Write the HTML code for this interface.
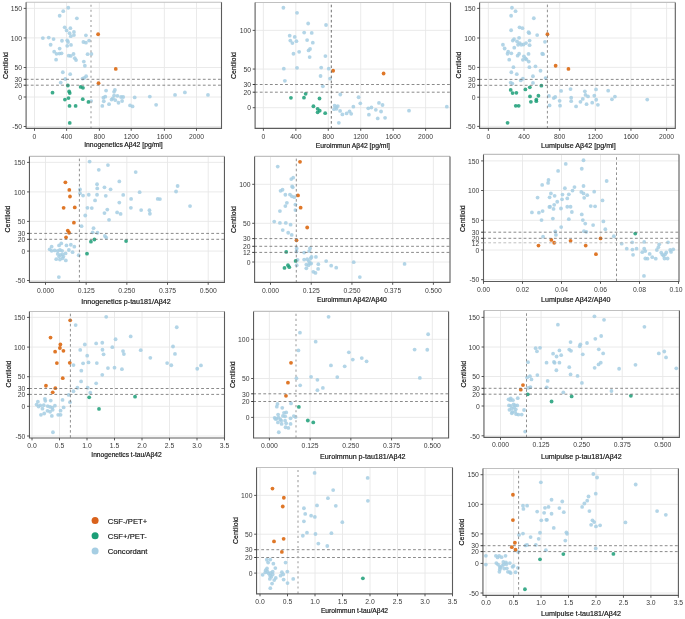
<!DOCTYPE html>
<html><head><meta charset="utf-8"><style>
html,body{margin:0;padding:0;background:#fff;}
svg{display:block;filter:blur(0.3px);}
text{font-family:"Liberation Sans",sans-serif;}
.gr{stroke:#e8e8e8;stroke-width:0.9;}
.dh{stroke:#6c6c6c;stroke-width:0.8;stroke-dasharray:2.8 2.26;stroke-dashoffset:0.35;}
.dhl{stroke:#b8b8b8;stroke-width:0.9;stroke-dasharray:2.8 2.26;stroke-dashoffset:0.35;}
.dk{stroke:#555 !important;}
.dd{stroke:#7c7c7c;stroke-width:0.85;stroke-dasharray:2.6 2.46;}
.dv{stroke:#b0b0b0;stroke-width:1.3;stroke-dasharray:2.1 2.97;}
.bt{stroke:#c0c0c0;stroke-width:1.1;}
.bd{stroke:#5c5c5c;stroke-width:1.1;fill:none;}
.tk{stroke:#444;stroke-width:0.9;}
.tk2{stroke:#222;stroke-width:0.9;}
.tkl{stroke:#999;stroke-width:0.9;}
.yl{font-size:6.8px;fill:#3a3a3a;text-anchor:end;}
.xl{font-size:6.8px;fill:#3a3a3a;text-anchor:middle;}
.at{font-size:6.9px;fill:#111;stroke:#111;stroke-width:0.18px;}
.atc{font-size:7.4px;fill:#111;stroke:#111;stroke-width:0.18px;}
.lg{font-size:7.7px;fill:#111;stroke:#111;stroke-width:0.15px;}
.b{fill:#a6cee3;}
.o{fill:#d9621c;}

circle.g{fill:#1b9e77;stroke:none;}
.p{fill-opacity:0.85;}
circle.o.p{fill:#d95f02;}
</style></head><body>
<svg width="685" height="619" viewBox="0 0 685 619">
<line x1="26.1" y1="8.4" x2="221.5" y2="8.4" class="gr"/>
<line x1="26.1" y1="37.9" x2="221.5" y2="37.9" class="gr"/>
<line x1="26.1" y1="67.5" x2="221.5" y2="67.5" class="gr"/>
<line x1="26.1" y1="97" x2="221.5" y2="97" class="gr"/>
<line x1="26.1" y1="126.5" x2="221.5" y2="126.5" class="gr"/>
<line x1="34.5" y1="2.3" x2="34.5" y2="128.4" class="gr"/>
<line x1="66.6" y1="2.3" x2="66.6" y2="128.4" class="gr"/>
<line x1="99.4" y1="2.3" x2="99.4" y2="128.4" class="gr"/>
<line x1="131.2" y1="2.3" x2="131.2" y2="128.4" class="gr"/>
<line x1="164.4" y1="2.3" x2="164.4" y2="128.4" class="gr"/>
<line x1="196.5" y1="2.3" x2="196.5" y2="128.4" class="gr"/>
<circle cx="68.28" cy="7.77" r="1.9" class="b p"/>
<circle cx="63.24" cy="11.13" r="1.9" class="b p"/>
<circle cx="59.66" cy="15.76" r="1.9" class="b p"/>
<circle cx="76.89" cy="18.28" r="1.9" class="b p"/>
<circle cx="64.71" cy="27.31" r="1.9" class="b p"/>
<circle cx="70.38" cy="28.15" r="1.9" class="b p"/>
<circle cx="66.6" cy="30.46" r="1.9" class="b p"/>
<circle cx="73.95" cy="31.93" r="1.9" class="b p"/>
<circle cx="69.54" cy="33.19" r="1.9" class="b p"/>
<circle cx="73.95" cy="35.08" r="1.9" class="b p"/>
<circle cx="70.8" cy="36.13" r="1.9" class="b p"/>
<circle cx="85.92" cy="35.29" r="1.9" class="b p"/>
<circle cx="42.86" cy="38.03" r="1.9" class="b p"/>
<circle cx="48.74" cy="37.61" r="1.9" class="b p"/>
<circle cx="53.57" cy="39.08" r="1.9" class="b p"/>
<circle cx="61.97" cy="40.76" r="1.9" class="b p"/>
<circle cx="67.23" cy="40.34" r="1.9" class="b p"/>
<circle cx="68.07" cy="42.02" r="1.9" class="b p"/>
<circle cx="83.4" cy="42.02" r="1.9" class="b p"/>
<circle cx="85.92" cy="42.65" r="1.9" class="b p"/>
<circle cx="89.08" cy="40.55" r="1.9" class="b p"/>
<circle cx="50.63" cy="44.75" r="1.9" class="b p"/>
<circle cx="67.23" cy="45.8" r="1.9" class="b p"/>
<circle cx="71.01" cy="44.96" r="1.9" class="b p"/>
<circle cx="59.66" cy="48.53" r="1.9" class="b p"/>
<circle cx="54.2" cy="51.68" r="1.9" class="b p"/>
<circle cx="56.51" cy="53.78" r="1.9" class="b p"/>
<circle cx="59.45" cy="53.57" r="1.9" class="b p"/>
<circle cx="61.55" cy="53.36" r="1.9" class="b p"/>
<circle cx="73.53" cy="53.99" r="1.9" class="b p"/>
<circle cx="68.7" cy="55.67" r="1.9" class="b p"/>
<circle cx="70.8" cy="55.88" r="1.9" class="b p"/>
<circle cx="74.79" cy="58.19" r="1.9" class="b p"/>
<circle cx="76.05" cy="60.08" r="1.9" class="b p"/>
<circle cx="87.61" cy="54.2" r="1.9" class="b p"/>
<circle cx="91.39" cy="53.99" r="1.9" class="b p"/>
<circle cx="56.09" cy="59.66" r="1.9" class="b p"/>
<circle cx="83.82" cy="61.55" r="1.9" class="b p"/>
<circle cx="84.87" cy="65.76" r="1.9" class="b p"/>
<circle cx="62.82" cy="72.27" r="1.9" class="b p"/>
<circle cx="70.17" cy="74.16" r="1.9" class="b p"/>
<circle cx="65.34" cy="78.99" r="1.9" class="b p"/>
<circle cx="60.71" cy="82.56" r="1.9" class="b p"/>
<circle cx="82.56" cy="78.57" r="1.9" class="b p"/>
<circle cx="84.24" cy="77.94" r="1.9" class="b p"/>
<circle cx="86.13" cy="76.26" r="1.9" class="b p"/>
<circle cx="91.18" cy="101.05" r="1.9" class="b p"/>
<circle cx="106.09" cy="90.55" r="1.9" class="b p"/>
<circle cx="114.92" cy="89.92" r="1.9" class="b p"/>
<circle cx="114.08" cy="91.81" r="1.9" class="b p"/>
<circle cx="103.36" cy="97.69" r="1.9" class="b p"/>
<circle cx="105.25" cy="96.64" r="1.9" class="b p"/>
<circle cx="103.78" cy="101.26" r="1.9" class="b p"/>
<circle cx="102.31" cy="105.88" r="1.9" class="b p"/>
<circle cx="109.03" cy="104.2" r="1.9" class="b p"/>
<circle cx="111.55" cy="99.58" r="1.9" class="b p"/>
<circle cx="112.82" cy="98.32" r="1.9" class="b p"/>
<circle cx="114.08" cy="95.59" r="1.9" class="b p"/>
<circle cx="117.44" cy="95.8" r="1.9" class="b p"/>
<circle cx="115.34" cy="100.21" r="1.9" class="b p"/>
<circle cx="118.49" cy="102.73" r="1.9" class="b p"/>
<circle cx="121.05" cy="97.02" r="1.9" class="b p"/>
<circle cx="123.15" cy="97.02" r="1.9" class="b p"/>
<circle cx="122.1" cy="101.01" r="1.9" class="b p"/>
<circle cx="130.08" cy="105.42" r="1.9" class="b p"/>
<circle cx="132.6" cy="106.47" r="1.9" class="b p"/>
<circle cx="134.7" cy="97.44" r="1.9" class="b p"/>
<circle cx="149.82" cy="96.6" r="1.9" class="b p"/>
<circle cx="156.12" cy="104.79" r="1.9" class="b p"/>
<circle cx="175.02" cy="94.92" r="1.9" class="b p"/>
<circle cx="184.89" cy="92.4" r="1.9" class="b p"/>
<circle cx="207.99" cy="94.92" r="1.9" class="b p"/>
<circle cx="98.11" cy="34.24" r="1.9" class="o p"/>
<circle cx="115.76" cy="68.91" r="1.9" class="o p"/>
<circle cx="98.53" cy="83.19" r="1.9" class="o p"/>
<circle cx="67.86" cy="85.5" r="1.9" class="g p"/>
<circle cx="80.67" cy="86.97" r="1.9" class="g p"/>
<circle cx="82.98" cy="87.82" r="1.9" class="g p"/>
<circle cx="69.12" cy="91.39" r="1.9" class="g p"/>
<circle cx="69.75" cy="93.07" r="1.9" class="g p"/>
<circle cx="52.52" cy="92.65" r="1.9" class="g p"/>
<circle cx="68.49" cy="98.11" r="1.9" class="g p"/>
<circle cx="64.92" cy="99.58" r="1.9" class="g p"/>
<circle cx="82.77" cy="99.16" r="1.9" class="g p"/>
<circle cx="88.45" cy="101.89" r="1.9" class="g p"/>
<circle cx="69.54" cy="105.88" r="1.9" class="g p"/>
<circle cx="75.63" cy="105.88" r="1.9" class="g p"/>
<circle cx="69.75" cy="122.9" r="1.9" class="g p"/>
<line x1="26.1" y1="79.3" x2="221.5" y2="79.3" class="dh"/>
<line x1="26.1" y1="85.2" x2="221.5" y2="85.2" class="dh"/>
<line x1="91" y1="2.3" x2="91" y2="128.4" class="dv" stroke-dashoffset="-2.4"/>
<line x1="26.1" y1="2.3" x2="221.5" y2="2.3" class="bt"/>
<polyline points="26.1,2.3 26.1,128.4 221.5,128.4 221.5,2.3" class="bd"/>
<line x1="23.7" y1="8.4" x2="26.1" y2="8.4" class="tk"/>
<text x="22" y="11.15" class="yl">150</text>
<line x1="23.7" y1="37.9" x2="26.1" y2="37.9" class="tk"/>
<text x="22" y="40.65" class="yl">100</text>
<line x1="23.7" y1="67.5" x2="26.1" y2="67.5" class="tk"/>
<text x="22" y="70.25" class="yl">50</text>
<line x1="23.7" y1="79.3" x2="26.1" y2="79.3" class="tk2"/>
<text x="22" y="82.05" class="yl">30</text>
<line x1="23.7" y1="85.2" x2="26.1" y2="85.2" class="tk2"/>
<text x="22" y="87.95" class="yl">20</text>
<line x1="23.7" y1="97" x2="26.1" y2="97" class="tk"/>
<text x="22" y="99.75" class="yl">0</text>
<line x1="23.7" y1="126.5" x2="26.1" y2="126.5" class="tk"/>
<text x="22" y="129.25" class="yl">-50</text>
<line x1="34.5" y1="128.4" x2="34.5" y2="130.8" class="tk"/>
<text x="34.5" y="138.8" class="xl">0</text>
<line x1="66.6" y1="128.4" x2="66.6" y2="130.8" class="tk"/>
<text x="66.6" y="138.8" class="xl">400</text>
<line x1="99.4" y1="128.4" x2="99.4" y2="130.8" class="tk"/>
<text x="99.4" y="138.8" class="xl">800</text>
<line x1="131.2" y1="128.4" x2="131.2" y2="130.8" class="tk"/>
<text x="131.2" y="138.8" class="xl">1200</text>
<line x1="164.4" y1="128.4" x2="164.4" y2="130.8" class="tk"/>
<text x="164.4" y="138.8" class="xl">1600</text>
<line x1="196.5" y1="128.4" x2="196.5" y2="130.8" class="tk"/>
<text x="196.5" y="138.8" class="xl">2000</text>
<text x="84.2" y="147.4" class="at" textLength="78.5" lengthAdjust="spacingAndGlyphs">Innogenetics Aβ42 [pg/ml]</text>
<text transform="translate(7.5,65.6) rotate(-90)" class="at" text-anchor="middle">Centiloid</text>
<line x1="255.1" y1="30.4" x2="450.5" y2="30.4" class="gr"/>
<line x1="255.1" y1="69.05" x2="450.5" y2="69.05" class="gr"/>
<line x1="255.1" y1="107.7" x2="450.5" y2="107.7" class="gr"/>
<line x1="263.4" y1="2.5" x2="263.4" y2="128.4" class="gr"/>
<line x1="295.84" y1="2.5" x2="295.84" y2="128.4" class="gr"/>
<line x1="328.28" y1="2.5" x2="328.28" y2="128.4" class="gr"/>
<line x1="360.72" y1="2.5" x2="360.72" y2="128.4" class="gr"/>
<line x1="393.16" y1="2.5" x2="393.16" y2="128.4" class="gr"/>
<line x1="425.6" y1="2.5" x2="425.6" y2="128.4" class="gr"/>
<circle cx="283.39" cy="7.77" r="1.9" class="b p"/>
<circle cx="297.04" cy="12.81" r="1.9" class="b p"/>
<circle cx="308.17" cy="23.52" r="1.9" class="b p"/>
<circle cx="326.02" cy="24.99" r="1.9" class="b p"/>
<circle cx="304.18" cy="32.55" r="1.9" class="b p"/>
<circle cx="311.74" cy="32.97" r="1.9" class="b p"/>
<circle cx="289.69" cy="35.7" r="1.9" class="b p"/>
<circle cx="294.73" cy="36.96" r="1.9" class="b p"/>
<circle cx="290.32" cy="40.53" r="1.9" class="b p"/>
<circle cx="292.42" cy="43.05" r="1.9" class="b p"/>
<circle cx="296.41" cy="41.16" r="1.9" class="b p"/>
<circle cx="307.12" cy="40.11" r="1.9" class="b p"/>
<circle cx="312.79" cy="42.63" r="1.9" class="b p"/>
<circle cx="310.06" cy="48.93" r="1.9" class="b p"/>
<circle cx="308.59" cy="50.4" r="1.9" class="b p"/>
<circle cx="299.14" cy="51.87" r="1.9" class="b p"/>
<circle cx="293.47" cy="53.76" r="1.9" class="b p"/>
<circle cx="325.39" cy="56.07" r="1.9" class="b p"/>
<circle cx="309.64" cy="57.12" r="1.9" class="b p"/>
<circle cx="283.81" cy="68.67" r="1.9" class="b p"/>
<circle cx="297.04" cy="67.83" r="1.9" class="b p"/>
<circle cx="321.19" cy="67.62" r="1.9" class="b p"/>
<circle cx="328.75" cy="68.67" r="1.9" class="b p"/>
<circle cx="320.56" cy="76.02" r="1.9" class="b p"/>
<circle cx="330.01" cy="78.54" r="1.9" class="b p"/>
<circle cx="284.86" cy="80.85" r="1.9" class="b p"/>
<circle cx="322.87" cy="86.31" r="1.9" class="b p"/>
<circle cx="340.3" cy="94.5" r="1.9" class="b p"/>
<circle cx="334.63" cy="105.63" r="1.9" class="b p"/>
<circle cx="337.78" cy="106.05" r="1.9" class="b p"/>
<circle cx="336.1" cy="107.1" r="1.9" class="b p"/>
<circle cx="334" cy="109.2" r="1.9" class="b p"/>
<circle cx="336.52" cy="108.78" r="1.9" class="b p"/>
<circle cx="340.09" cy="110.88" r="1.9" class="b p"/>
<circle cx="342.4" cy="114.45" r="1.9" class="b p"/>
<circle cx="346.6" cy="113.4" r="1.9" class="b p"/>
<circle cx="349.54" cy="111.3" r="1.9" class="b p"/>
<circle cx="351.22" cy="113.82" r="1.9" class="b p"/>
<circle cx="338.83" cy="122.85" r="1.9" class="b p"/>
<circle cx="353.36" cy="106.68" r="1.9" class="b p"/>
<circle cx="358.61" cy="97.23" r="1.9" class="b p"/>
<circle cx="360.29" cy="103.32" r="1.9" class="b p"/>
<circle cx="368.27" cy="108.36" r="1.9" class="b p"/>
<circle cx="371.42" cy="107.52" r="1.9" class="b p"/>
<circle cx="368.9" cy="114.66" r="1.9" class="b p"/>
<circle cx="375.83" cy="109.83" r="1.9" class="b p"/>
<circle cx="378.98" cy="102.9" r="1.9" class="b p"/>
<circle cx="382.55" cy="105" r="1.9" class="b p"/>
<circle cx="381.08" cy="111.51" r="1.9" class="b p"/>
<circle cx="377.72" cy="118.44" r="1.9" class="b p"/>
<circle cx="385.07" cy="117.81" r="1.9" class="b p"/>
<circle cx="409.01" cy="110.67" r="1.9" class="b p"/>
<circle cx="446.81" cy="106.68" r="1.9" class="b p"/>
<circle cx="333.16" cy="70.77" r="1.9" class="o p"/>
<circle cx="305.65" cy="93.87" r="1.9" class="g p"/>
<circle cx="290.95" cy="97.86" r="1.9" class="g p"/>
<circle cx="303.97" cy="97.65" r="1.9" class="g p"/>
<circle cx="319.51" cy="98.49" r="1.9" class="g p"/>
<circle cx="313.42" cy="106.26" r="1.9" class="g p"/>
<circle cx="317.62" cy="108.78" r="1.9" class="g p"/>
<circle cx="319.72" cy="110.67" r="1.9" class="g p"/>
<circle cx="317.62" cy="112.35" r="1.9" class="g p"/>
<circle cx="325.18" cy="113.19" r="1.9" class="g p"/>
<circle cx="383.6" cy="73.5" r="1.9" class="o p"/>
<line x1="255.1" y1="84.5" x2="450.5" y2="84.5" class="dh"/>
<line x1="255.1" y1="92.2" x2="450.5" y2="92.2" class="dh"/>
<line x1="331.3" y1="2.5" x2="331.3" y2="128.4" class="dd dk" stroke-dashoffset="-2.2"/>
<line x1="255.1" y1="2.5" x2="450.5" y2="2.5" class="bt"/>
<polyline points="255.1,2.5 255.1,128.4 450.5,128.4 450.5,2.5" class="bd"/>
<line x1="252.7" y1="30.4" x2="255.1" y2="30.4" class="tk"/>
<text x="251" y="33.15" class="yl">100</text>
<line x1="252.7" y1="69.05" x2="255.1" y2="69.05" class="tk"/>
<text x="251" y="71.8" class="yl">50</text>
<line x1="252.7" y1="84.5" x2="255.1" y2="84.5" class="tk2"/>
<text x="251" y="87.25" class="yl">30</text>
<line x1="252.7" y1="92.2" x2="255.1" y2="92.2" class="tk2"/>
<text x="251" y="94.95" class="yl">20</text>
<line x1="252.7" y1="107.7" x2="255.1" y2="107.7" class="tk"/>
<text x="251" y="110.45" class="yl">0</text>
<line x1="263.4" y1="128.4" x2="263.4" y2="130.8" class="tk"/>
<text x="263.4" y="138.8" class="xl">0</text>
<line x1="295.84" y1="128.4" x2="295.84" y2="130.8" class="tk"/>
<text x="295.84" y="138.8" class="xl">400</text>
<line x1="328.28" y1="128.4" x2="328.28" y2="130.8" class="tk"/>
<text x="328.28" y="138.8" class="xl">800</text>
<line x1="360.72" y1="128.4" x2="360.72" y2="130.8" class="tk"/>
<text x="360.72" y="138.8" class="xl">1200</text>
<line x1="393.16" y1="128.4" x2="393.16" y2="130.8" class="tk"/>
<text x="393.16" y="138.8" class="xl">1600</text>
<line x1="425.6" y1="128.4" x2="425.6" y2="130.8" class="tk"/>
<text x="425.6" y="138.8" class="xl">2000</text>
<text x="315.7" y="147.6" class="at" textLength="74.2" lengthAdjust="spacingAndGlyphs">Euroimmun Aβ42 [pg/ml]</text>
<text transform="translate(236.2,65.6) rotate(-90)" class="at" text-anchor="middle">Centiloid</text>
<line x1="479.6" y1="8.4" x2="675.3" y2="8.4" class="gr"/>
<line x1="479.6" y1="38" x2="675.3" y2="38" class="gr"/>
<line x1="479.6" y1="67.4" x2="675.3" y2="67.4" class="gr"/>
<line x1="479.6" y1="97.2" x2="675.3" y2="97.2" class="gr"/>
<line x1="479.6" y1="126.4" x2="675.3" y2="126.4" class="gr"/>
<line x1="488.4" y1="2.4" x2="488.4" y2="128.4" class="gr"/>
<line x1="524.04" y1="2.4" x2="524.04" y2="128.4" class="gr"/>
<line x1="559.68" y1="2.4" x2="559.68" y2="128.4" class="gr"/>
<line x1="595.32" y1="2.4" x2="595.32" y2="128.4" class="gr"/>
<line x1="630.96" y1="2.4" x2="630.96" y2="128.4" class="gr"/>
<line x1="666.6" y1="2.4" x2="666.6" y2="128.4" class="gr"/>
<circle cx="511.96" cy="7.77" r="1.9" class="b p"/>
<circle cx="515.53" cy="11.13" r="1.9" class="b p"/>
<circle cx="511.12" cy="15.75" r="1.9" class="b p"/>
<circle cx="533.8" cy="18.27" r="1.9" class="b p"/>
<circle cx="519.52" cy="27.3" r="1.9" class="b p"/>
<circle cx="522.46" cy="28.14" r="1.9" class="b p"/>
<circle cx="511.12" cy="30.24" r="1.9" class="b p"/>
<circle cx="528.55" cy="32.13" r="1.9" class="b p"/>
<circle cx="529.18" cy="33.18" r="1.9" class="b p"/>
<circle cx="537.16" cy="35.07" r="1.9" class="b p"/>
<circle cx="519.1" cy="37.8" r="1.9" class="b p"/>
<circle cx="514.06" cy="39.06" r="1.9" class="b p"/>
<circle cx="512.8" cy="40.53" r="1.9" class="b p"/>
<circle cx="517" cy="41.37" r="1.9" class="b p"/>
<circle cx="519.73" cy="43.05" r="1.9" class="b p"/>
<circle cx="518.05" cy="44.73" r="1.9" class="b p"/>
<circle cx="521.2" cy="44.73" r="1.9" class="b p"/>
<circle cx="523.51" cy="44.52" r="1.9" class="b p"/>
<circle cx="526.03" cy="43.05" r="1.9" class="b p"/>
<circle cx="529.6" cy="40.53" r="1.9" class="b p"/>
<circle cx="529.6" cy="45.15" r="1.9" class="b p"/>
<circle cx="502.93" cy="44.73" r="1.9" class="b p"/>
<circle cx="504.61" cy="48.51" r="1.9" class="b p"/>
<circle cx="508.18" cy="51.66" r="1.9" class="b p"/>
<circle cx="507.55" cy="53.76" r="1.9" class="b p"/>
<circle cx="511.33" cy="53.34" r="1.9" class="b p"/>
<circle cx="514.27" cy="47.67" r="1.9" class="b p"/>
<circle cx="519.1" cy="53.76" r="1.9" class="b p"/>
<circle cx="517.63" cy="55.65" r="1.9" class="b p"/>
<circle cx="528.55" cy="53.97" r="1.9" class="b p"/>
<circle cx="523.93" cy="56.28" r="1.9" class="b p"/>
<circle cx="525.4" cy="58.38" r="1.9" class="b p"/>
<circle cx="522.88" cy="59.85" r="1.9" class="b p"/>
<circle cx="526.45" cy="59.43" r="1.9" class="b p"/>
<circle cx="528.76" cy="61.53" r="1.9" class="b p"/>
<circle cx="542.2" cy="53.76" r="1.9" class="b p"/>
<circle cx="543.04" cy="54.18" r="1.9" class="b p"/>
<circle cx="509.23" cy="59.64" r="1.9" class="b p"/>
<circle cx="544.93" cy="41.79" r="1.9" class="b p"/>
<circle cx="513.43" cy="67.2" r="1.9" class="b p"/>
<circle cx="529.39" cy="67.2" r="1.9" class="b p"/>
<circle cx="535.48" cy="66.36" r="1.9" class="b p"/>
<circle cx="511.33" cy="72.24" r="1.9" class="b p"/>
<circle cx="540.52" cy="70.77" r="1.9" class="b p"/>
<circle cx="516.79" cy="74.13" r="1.9" class="b p"/>
<circle cx="532.96" cy="76.23" r="1.9" class="b p"/>
<circle cx="522.88" cy="78.75" r="1.9" class="b p"/>
<circle cx="520.78" cy="80.43" r="1.9" class="b p"/>
<circle cx="545.56" cy="78.12" r="1.9" class="b p"/>
<circle cx="510.7" cy="82.53" r="1.9" class="b p"/>
<circle cx="512.38" cy="83.58" r="1.9" class="b p"/>
<circle cx="532.96" cy="82.95" r="1.9" class="b p"/>
<circle cx="548.92" cy="95.97" r="1.9" class="b p"/>
<circle cx="553.75" cy="98.07" r="1.9" class="b p"/>
<circle cx="555.22" cy="97.02" r="1.9" class="b p"/>
<circle cx="561.1" cy="90.93" r="1.9" class="b p"/>
<circle cx="570.55" cy="89.04" r="1.9" class="b p"/>
<circle cx="571.18" cy="97.65" r="1.9" class="b p"/>
<circle cx="571.18" cy="101.22" r="1.9" class="b p"/>
<circle cx="559.63" cy="100.8" r="1.9" class="b p"/>
<circle cx="549.55" cy="105.42" r="1.9" class="b p"/>
<circle cx="560.05" cy="105.63" r="1.9" class="b p"/>
<circle cx="576.05" cy="106.47" r="1.9" class="b p"/>
<circle cx="580.46" cy="101.85" r="1.9" class="b p"/>
<circle cx="582.77" cy="98.91" r="1.9" class="b p"/>
<circle cx="584.87" cy="91.35" r="1.9" class="b p"/>
<circle cx="585.5" cy="94.92" r="1.9" class="b p"/>
<circle cx="588.02" cy="96.39" r="1.9" class="b p"/>
<circle cx="586.55" cy="104.16" r="1.9" class="b p"/>
<circle cx="592.22" cy="102.69" r="1.9" class="b p"/>
<circle cx="594.32" cy="95.76" r="1.9" class="b p"/>
<circle cx="596" cy="89.46" r="1.9" class="b p"/>
<circle cx="596.21" cy="99.75" r="1.9" class="b p"/>
<circle cx="597.89" cy="104.79" r="1.9" class="b p"/>
<circle cx="608.18" cy="90.72" r="1.9" class="b p"/>
<circle cx="611.96" cy="99.33" r="1.9" class="b p"/>
<circle cx="614.9" cy="96.6" r="1.9" class="b p"/>
<circle cx="647.24" cy="99.54" r="1.9" class="b p"/>
<circle cx="547.45" cy="34.23" r="1.9" class="o p"/>
<circle cx="555.64" cy="65.73" r="1.9" class="o p"/>
<circle cx="568.45" cy="68.88" r="1.9" class="o p"/>
<circle cx="510.7" cy="89.88" r="1.9" class="g p"/>
<circle cx="512.59" cy="93.03" r="1.9" class="g p"/>
<circle cx="516.37" cy="92.82" r="1.9" class="g p"/>
<circle cx="525.4" cy="89.46" r="1.9" class="g p"/>
<circle cx="529.81" cy="87.36" r="1.9" class="g p"/>
<circle cx="541.36" cy="85.68" r="1.9" class="g p"/>
<circle cx="530.02" cy="96.39" r="1.9" class="g p"/>
<circle cx="538.42" cy="95.76" r="1.9" class="g p"/>
<circle cx="530.86" cy="101.85" r="1.9" class="g p"/>
<circle cx="536.32" cy="99.54" r="1.9" class="g p"/>
<circle cx="536.32" cy="101.22" r="1.9" class="g p"/>
<circle cx="515.74" cy="105.84" r="1.9" class="g p"/>
<circle cx="518.68" cy="105.84" r="1.9" class="g p"/>
<circle cx="507.55" cy="122.85" r="1.9" class="g p"/>
<line x1="479.6" y1="79.4" x2="675.3" y2="79.4" class="dh"/>
<line x1="479.6" y1="85.3" x2="675.3" y2="85.3" class="dh"/>
<line x1="547.4" y1="2.4" x2="547.4" y2="128.4" class="dd" stroke-dashoffset="-2.2"/>
<line x1="479.6" y1="2.4" x2="675.3" y2="2.4" class="bt"/>
<polyline points="479.6,2.4 479.6,128.4 675.3,128.4 675.3,2.4" class="bd"/>
<line x1="477.2" y1="8.4" x2="479.6" y2="8.4" class="tk"/>
<text x="475.5" y="11.15" class="yl">150</text>
<line x1="477.2" y1="38" x2="479.6" y2="38" class="tk"/>
<text x="475.5" y="40.75" class="yl">100</text>
<line x1="477.2" y1="67.4" x2="479.6" y2="67.4" class="tk"/>
<text x="475.5" y="70.15" class="yl">50</text>
<line x1="477.2" y1="79.4" x2="479.6" y2="79.4" class="tk2"/>
<text x="475.5" y="82.15" class="yl">30</text>
<line x1="477.2" y1="85.3" x2="479.6" y2="85.3" class="tk2"/>
<text x="475.5" y="88.05" class="yl">20</text>
<line x1="477.2" y1="97.2" x2="479.6" y2="97.2" class="tk"/>
<text x="475.5" y="99.95" class="yl">0</text>
<line x1="477.2" y1="126.4" x2="479.6" y2="126.4" class="tk"/>
<text x="475.5" y="129.15" class="yl">-50</text>
<line x1="488.4" y1="128.4" x2="488.4" y2="130.8" class="tk"/>
<text x="488.4" y="138.8" class="xl">0</text>
<line x1="524.04" y1="128.4" x2="524.04" y2="130.8" class="tk"/>
<text x="524.04" y="138.8" class="xl">400</text>
<line x1="559.68" y1="128.4" x2="559.68" y2="130.8" class="tk"/>
<text x="559.68" y="138.8" class="xl">800</text>
<line x1="595.32" y1="128.4" x2="595.32" y2="130.8" class="tk"/>
<text x="595.32" y="138.8" class="xl">1200</text>
<line x1="630.96" y1="128.4" x2="630.96" y2="130.8" class="tk"/>
<text x="630.96" y="138.8" class="xl">1600</text>
<line x1="666.6" y1="128.4" x2="666.6" y2="130.8" class="tk"/>
<text x="666.6" y="138.8" class="xl">2000</text>
<text x="541" y="147.6" class="atc" textLength="74.7" lengthAdjust="spacingAndGlyphs">Lumipulse Aβ42 [pg/ml]</text>
<text transform="translate(461.4,65) rotate(-90)" class="at" text-anchor="middle">Centiloid</text>
<line x1="29.45" y1="162.4" x2="224.45" y2="162.4" class="gr"/>
<line x1="29.45" y1="191.9" x2="224.45" y2="191.9" class="gr"/>
<line x1="29.45" y1="221.4" x2="224.45" y2="221.4" class="gr"/>
<line x1="29.45" y1="251.1" x2="224.45" y2="251.1" class="gr"/>
<line x1="29.45" y1="280.5" x2="224.45" y2="280.5" class="gr"/>
<line x1="45.5" y1="156.4" x2="45.5" y2="282.4" class="gr"/>
<line x1="86.17" y1="156.4" x2="86.17" y2="282.4" class="gr"/>
<line x1="126.85" y1="156.4" x2="126.85" y2="282.4" class="gr"/>
<line x1="167.52" y1="156.4" x2="167.52" y2="282.4" class="gr"/>
<line x1="208.2" y1="156.4" x2="208.2" y2="282.4" class="gr"/>
<circle cx="89.61" cy="161.57" r="1.9" class="b p"/>
<circle cx="107.95" cy="165.06" r="1.9" class="b p"/>
<circle cx="98.78" cy="169.86" r="1.9" class="b p"/>
<circle cx="119.3" cy="181.43" r="1.9" class="b p"/>
<circle cx="97.04" cy="184.27" r="1.9" class="b p"/>
<circle cx="97.25" cy="188.42" r="1.9" class="b p"/>
<circle cx="104.46" cy="187.33" r="1.9" class="b p"/>
<circle cx="110.57" cy="189.29" r="1.9" class="b p"/>
<circle cx="80.01" cy="189.51" r="1.9" class="b p"/>
<circle cx="80.01" cy="193.22" r="1.9" class="b p"/>
<circle cx="83.07" cy="195.62" r="1.9" class="b p"/>
<circle cx="88.74" cy="194.75" r="1.9" class="b p"/>
<circle cx="97.04" cy="194.75" r="1.9" class="b p"/>
<circle cx="105.77" cy="195.84" r="1.9" class="b p"/>
<circle cx="123.23" cy="194.97" r="1.9" class="b p"/>
<circle cx="95.07" cy="200.43" r="1.9" class="b p"/>
<circle cx="119.3" cy="202.61" r="1.9" class="b p"/>
<circle cx="87.43" cy="207.85" r="1.9" class="b p"/>
<circle cx="91.8" cy="208.07" r="1.9" class="b p"/>
<circle cx="107.3" cy="209.59" r="1.9" class="b p"/>
<circle cx="104.46" cy="213.09" r="1.9" class="b p"/>
<circle cx="117.12" cy="212.43" r="1.9" class="b p"/>
<circle cx="120.61" cy="213.96" r="1.9" class="b p"/>
<circle cx="85.25" cy="215.49" r="1.9" class="b p"/>
<circle cx="109.04" cy="219.85" r="1.9" class="b p"/>
<circle cx="81.54" cy="226.18" r="1.9" class="b p"/>
<circle cx="93.54" cy="228.15" r="1.9" class="b p"/>
<circle cx="92.67" cy="232.3" r="1.9" class="b p"/>
<circle cx="97.47" cy="232.73" r="1.9" class="b p"/>
<circle cx="104.9" cy="236.01" r="1.9" class="b p"/>
<circle cx="106.2" cy="237.54" r="1.9" class="b p"/>
<circle cx="59.05" cy="245.39" r="1.9" class="b p"/>
<circle cx="61.24" cy="243.43" r="1.9" class="b p"/>
<circle cx="51.63" cy="246.7" r="1.9" class="b p"/>
<circle cx="49.67" cy="249.32" r="1.9" class="b p"/>
<circle cx="51.63" cy="250.85" r="1.9" class="b p"/>
<circle cx="54.69" cy="250.41" r="1.9" class="b p"/>
<circle cx="57.74" cy="250.85" r="1.9" class="b p"/>
<circle cx="59.93" cy="249.98" r="1.9" class="b p"/>
<circle cx="62.11" cy="250.85" r="1.9" class="b p"/>
<circle cx="66.48" cy="245.39" r="1.9" class="b p"/>
<circle cx="70.84" cy="244.74" r="1.9" class="b p"/>
<circle cx="74.33" cy="246.7" r="1.9" class="b p"/>
<circle cx="68.88" cy="249.98" r="1.9" class="b p"/>
<circle cx="72.59" cy="252.16" r="1.9" class="b p"/>
<circle cx="78.7" cy="255.22" r="1.9" class="b p"/>
<circle cx="57.74" cy="253.91" r="1.9" class="b p"/>
<circle cx="60.36" cy="254.78" r="1.9" class="b p"/>
<circle cx="62.55" cy="254.34" r="1.9" class="b p"/>
<circle cx="65.6" cy="253.47" r="1.9" class="b p"/>
<circle cx="59.05" cy="256.53" r="1.9" class="b p"/>
<circle cx="63.42" cy="256.53" r="1.9" class="b p"/>
<circle cx="56.22" cy="259.15" r="1.9" class="b p"/>
<circle cx="59.93" cy="259.58" r="1.9" class="b p"/>
<circle cx="65.82" cy="260.46" r="1.9" class="b p"/>
<circle cx="62.55" cy="258.27" r="1.9" class="b p"/>
<circle cx="58.84" cy="277.05" r="1.9" class="b p"/>
<circle cx="135.7" cy="172.05" r="1.9" class="b p"/>
<circle cx="139.63" cy="192.13" r="1.9" class="b p"/>
<circle cx="131.11" cy="198.9" r="1.9" class="b p"/>
<circle cx="130.89" cy="207.85" r="1.9" class="b p"/>
<circle cx="141.15" cy="210.03" r="1.9" class="b p"/>
<circle cx="149.45" cy="210.25" r="1.9" class="b p"/>
<circle cx="149.89" cy="213.74" r="1.9" class="b p"/>
<circle cx="157.74" cy="198.9" r="1.9" class="b p"/>
<circle cx="159.93" cy="199.12" r="1.9" class="b p"/>
<circle cx="176.08" cy="191.48" r="1.9" class="b p"/>
<circle cx="177.61" cy="186.02" r="1.9" class="b p"/>
<circle cx="190.05" cy="206.1" r="1.9" class="b p"/>
<circle cx="65.38" cy="182.31" r="1.9" class="o p"/>
<circle cx="69.31" cy="189.95" r="1.9" class="o p"/>
<circle cx="69.97" cy="196.5" r="1.9" class="o p"/>
<circle cx="63.64" cy="207.85" r="1.9" class="o p"/>
<circle cx="74.77" cy="207.41" r="1.9" class="o p"/>
<circle cx="73.9" cy="222.69" r="1.9" class="o p"/>
<circle cx="67.79" cy="230.55" r="1.9" class="o p"/>
<circle cx="69.1" cy="232.73" r="1.9" class="o p"/>
<circle cx="66.04" cy="237.32" r="1.9" class="o p"/>
<circle cx="94.42" cy="239.5" r="1.9" class="g p"/>
<circle cx="90.92" cy="241.68" r="1.9" class="g p"/>
<circle cx="126.07" cy="241.03" r="1.9" class="g p"/>
<circle cx="87" cy="253.69" r="1.9" class="g p"/>
<line x1="29.45" y1="233.4" x2="224.45" y2="233.4" class="dh"/>
<line x1="29.45" y1="239.3" x2="224.45" y2="239.3" class="dh"/>
<line x1="79.4" y1="156.4" x2="79.4" y2="282.4" class="dd" stroke-dashoffset="-2.2"/>
<line x1="29.45" y1="156.4" x2="224.45" y2="156.4" class="bt"/>
<polyline points="29.45,156.4 29.45,282.4 224.45,282.4 224.45,156.4" class="bd"/>
<line x1="27.05" y1="162.4" x2="29.45" y2="162.4" class="tk"/>
<text x="25.35" y="165.15" class="yl">150</text>
<line x1="27.05" y1="191.9" x2="29.45" y2="191.9" class="tk"/>
<text x="25.35" y="194.65" class="yl">100</text>
<line x1="27.05" y1="221.4" x2="29.45" y2="221.4" class="tk"/>
<text x="25.35" y="224.15" class="yl">50</text>
<line x1="27.05" y1="233.4" x2="29.45" y2="233.4" class="tk2"/>
<text x="25.35" y="236.15" class="yl">30</text>
<line x1="27.05" y1="239.3" x2="29.45" y2="239.3" class="tk2"/>
<text x="25.35" y="242.05" class="yl">20</text>
<line x1="27.05" y1="251.1" x2="29.45" y2="251.1" class="tk"/>
<text x="25.35" y="253.85" class="yl">0</text>
<line x1="27.05" y1="280.5" x2="29.45" y2="280.5" class="tk"/>
<text x="25.35" y="283.25" class="yl">-50</text>
<line x1="45.5" y1="282.4" x2="45.5" y2="284.8" class="tk"/>
<text x="45.5" y="292.8" class="xl">0.000</text>
<line x1="86.17" y1="282.4" x2="86.17" y2="284.8" class="tk"/>
<text x="86.17" y="292.8" class="xl">0.125</text>
<line x1="126.85" y1="282.4" x2="126.85" y2="284.8" class="tk"/>
<text x="126.85" y="292.8" class="xl">0.250</text>
<line x1="167.52" y1="282.4" x2="167.52" y2="284.8" class="tk"/>
<text x="167.52" y="292.8" class="xl">0.375</text>
<line x1="208.2" y1="282.4" x2="208.2" y2="284.8" class="tk"/>
<text x="208.2" y="292.8" class="xl">0.500</text>
<text x="81.3" y="303.9" class="atc" textLength="89.5" lengthAdjust="spacingAndGlyphs">Innogenetics p-tau181/Aβ42</text>
<text transform="translate(9.6,219) rotate(-90)" class="at" text-anchor="middle">Centiloid</text>
<line x1="254.6" y1="184.3" x2="450" y2="184.3" class="gr"/>
<line x1="254.6" y1="223.3" x2="450" y2="223.3" class="gr"/>
<line x1="254.6" y1="262" x2="450" y2="262" class="gr"/>
<line x1="270.5" y1="156.4" x2="270.5" y2="282.4" class="gr"/>
<line x1="311.23" y1="156.4" x2="311.23" y2="282.4" class="gr"/>
<line x1="351.95" y1="156.4" x2="351.95" y2="282.4" class="gr"/>
<line x1="392.68" y1="156.4" x2="392.68" y2="282.4" class="gr"/>
<line x1="433.4" y1="156.4" x2="433.4" y2="282.4" class="gr"/>
<circle cx="277.72" cy="166.59" r="1.9" class="b p"/>
<circle cx="291.26" cy="179.03" r="1.9" class="b p"/>
<circle cx="293.22" cy="177.72" r="1.9" class="b p"/>
<circle cx="292.13" cy="186.45" r="1.9" class="b p"/>
<circle cx="292.79" cy="187.33" r="1.9" class="b p"/>
<circle cx="280.56" cy="190.82" r="1.9" class="b p"/>
<circle cx="282.53" cy="189.73" r="1.9" class="b p"/>
<circle cx="285.36" cy="194.75" r="1.9" class="b p"/>
<circle cx="289.95" cy="194.53" r="1.9" class="b p"/>
<circle cx="291.91" cy="196.28" r="1.9" class="b p"/>
<circle cx="294.31" cy="197.15" r="1.9" class="b p"/>
<circle cx="286.89" cy="202.83" r="1.9" class="b p"/>
<circle cx="285.36" cy="206.1" r="1.9" class="b p"/>
<circle cx="295.4" cy="204.57" r="1.9" class="b p"/>
<circle cx="279.91" cy="211.12" r="1.9" class="b p"/>
<circle cx="295.4" cy="210.03" r="1.9" class="b p"/>
<circle cx="274.23" cy="221.6" r="1.9" class="b p"/>
<circle cx="279.91" cy="222.91" r="1.9" class="b p"/>
<circle cx="285.8" cy="222.91" r="1.9" class="b p"/>
<circle cx="290.6" cy="224.66" r="1.9" class="b p"/>
<circle cx="282.74" cy="230.11" r="1.9" class="b p"/>
<circle cx="288.2" cy="232.73" r="1.9" class="b p"/>
<circle cx="291.69" cy="234.92" r="1.9" class="b p"/>
<circle cx="296.71" cy="248.45" r="1.9" class="b p"/>
<circle cx="296.5" cy="251.51" r="1.9" class="b p"/>
<circle cx="310.03" cy="248.23" r="1.9" class="b p"/>
<circle cx="309.16" cy="251.07" r="1.9" class="b p"/>
<circle cx="304.14" cy="252.6" r="1.9" class="b p"/>
<circle cx="297.59" cy="259.8" r="1.9" class="b p"/>
<circle cx="304.14" cy="259.58" r="1.9" class="b p"/>
<circle cx="307.19" cy="259.15" r="1.9" class="b p"/>
<circle cx="308.94" cy="261.33" r="1.9" class="b p"/>
<circle cx="310.69" cy="258.27" r="1.9" class="b p"/>
<circle cx="311.56" cy="256.96" r="1.9" class="b p"/>
<circle cx="315.92" cy="256.96" r="1.9" class="b p"/>
<circle cx="309.81" cy="263.51" r="1.9" class="b p"/>
<circle cx="306.32" cy="264.6" r="1.9" class="b p"/>
<circle cx="308.5" cy="265.26" r="1.9" class="b p"/>
<circle cx="311.12" cy="263.51" r="1.9" class="b p"/>
<circle cx="296.71" cy="265.26" r="1.9" class="b p"/>
<circle cx="306.32" cy="268.31" r="1.9" class="b p"/>
<circle cx="318.33" cy="264.17" r="1.9" class="b p"/>
<circle cx="326.18" cy="261.11" r="1.9" class="b p"/>
<circle cx="318.11" cy="268.97" r="1.9" class="b p"/>
<circle cx="313.3" cy="271.81" r="1.9" class="b p"/>
<circle cx="315.49" cy="272.9" r="1.9" class="b p"/>
<circle cx="331.2" cy="265.7" r="1.9" class="b p"/>
<circle cx="336.23" cy="267.66" r="1.9" class="b p"/>
<circle cx="353.69" cy="262.2" r="1.9" class="b p"/>
<circle cx="359.82" cy="277.05" r="1.9" class="b p"/>
<circle cx="404.57" cy="263.95" r="1.9" class="b p"/>
<circle cx="299.99" cy="161.79" r="1.9" class="o p"/>
<circle cx="298.02" cy="195.4" r="1.9" class="o p"/>
<circle cx="300.64" cy="207.63" r="1.9" class="o p"/>
<circle cx="307.19" cy="227.49" r="1.9" class="o p"/>
<circle cx="296.5" cy="240.37" r="1.9" class="o p"/>
<circle cx="286.24" cy="251.94" r="1.9" class="g p"/>
<circle cx="295.62" cy="260.89" r="1.9" class="g p"/>
<circle cx="287.98" cy="265.26" r="1.9" class="g p"/>
<circle cx="289.29" cy="267.22" r="1.9" class="g p"/>
<circle cx="284.49" cy="267.88" r="1.9" class="g p"/>
<line x1="254.6" y1="238.6" x2="450" y2="238.6" class="dh"/>
<line x1="254.6" y1="246.3" x2="450" y2="246.3" class="dh"/>
<line x1="254.6" y1="252.4" x2="450" y2="252.4" class="dh"/>
<line x1="296.3" y1="156.4" x2="296.3" y2="282.4" class="dd" stroke-dashoffset="-2.2"/>
<line x1="254.6" y1="156.4" x2="450" y2="156.4" class="bt"/>
<polyline points="254.6,156.4 254.6,282.4 450,282.4 450,156.4" class="bd"/>
<line x1="252.2" y1="184.3" x2="254.6" y2="184.3" class="tk"/>
<text x="250.5" y="187.05" class="yl">100</text>
<line x1="252.2" y1="223.3" x2="254.6" y2="223.3" class="tk"/>
<text x="250.5" y="226.05" class="yl">50</text>
<line x1="252.2" y1="238.6" x2="254.6" y2="238.6" class="tk2"/>
<text x="250.5" y="241.35" class="yl">30</text>
<line x1="252.2" y1="246.3" x2="254.6" y2="246.3" class="tk2"/>
<text x="250.5" y="249.05" class="yl">20</text>
<line x1="252.2" y1="252.4" x2="254.6" y2="252.4" class="tk2"/>
<text x="250.5" y="255.15" class="yl">12</text>
<line x1="252.2" y1="262" x2="254.6" y2="262" class="tk"/>
<text x="250.5" y="264.75" class="yl">0</text>
<line x1="270.5" y1="282.4" x2="270.5" y2="284.8" class="tk"/>
<text x="270.5" y="292.8" class="xl">0.000</text>
<line x1="311.23" y1="282.4" x2="311.23" y2="284.8" class="tk"/>
<text x="311.23" y="292.8" class="xl">0.125</text>
<line x1="351.95" y1="282.4" x2="351.95" y2="284.8" class="tk"/>
<text x="351.95" y="292.8" class="xl">0.250</text>
<line x1="392.68" y1="282.4" x2="392.68" y2="284.8" class="tk"/>
<text x="392.68" y="292.8" class="xl">0.375</text>
<line x1="433.4" y1="282.4" x2="433.4" y2="284.8" class="tk"/>
<text x="433.4" y="292.8" class="xl">0.500</text>
<text x="316.9" y="301.7" class="at" textLength="70" lengthAdjust="spacingAndGlyphs">Euroimmun Aβ42/Aβ40</text>
<text transform="translate(236.3,219.5) rotate(-90)" class="at" text-anchor="middle">Centiloid</text>
<line x1="483.5" y1="160.9" x2="679" y2="160.9" class="gr"/>
<line x1="483.5" y1="190.5" x2="679" y2="190.5" class="gr"/>
<line x1="483.5" y1="220.3" x2="679" y2="220.3" class="gr"/>
<line x1="483.5" y1="250" x2="679" y2="250" class="gr"/>
<line x1="483.5" y1="279.7" x2="679" y2="279.7" class="gr"/>
<line x1="522.5" y1="154.4" x2="522.5" y2="281.45" class="gr"/>
<line x1="561.5" y1="154.4" x2="561.5" y2="281.45" class="gr"/>
<line x1="600.5" y1="154.4" x2="600.5" y2="281.45" class="gr"/>
<line x1="639.5" y1="154.4" x2="639.5" y2="281.45" class="gr"/>
<circle cx="565.75" cy="163.97" r="1.9" class="b p"/>
<circle cx="558.11" cy="170.96" r="1.9" class="b p"/>
<circle cx="548.51" cy="179.91" r="1.9" class="b p"/>
<circle cx="548.07" cy="182.96" r="1.9" class="b p"/>
<circle cx="542.18" cy="184.93" r="1.9" class="b p"/>
<circle cx="564.88" cy="188.2" r="1.9" class="b p"/>
<circle cx="574.49" cy="187.11" r="1.9" class="b p"/>
<circle cx="572.52" cy="190.6" r="1.9" class="b p"/>
<circle cx="550.91" cy="193.44" r="1.9" class="b p"/>
<circle cx="554.62" cy="195.84" r="1.9" class="b p"/>
<circle cx="562.48" cy="194.53" r="1.9" class="b p"/>
<circle cx="568.81" cy="194.31" r="1.9" class="b p"/>
<circle cx="537.59" cy="197.59" r="1.9" class="b p"/>
<circle cx="549.6" cy="197.37" r="1.9" class="b p"/>
<circle cx="562.04" cy="199.33" r="1.9" class="b p"/>
<circle cx="567.28" cy="198.46" r="1.9" class="b p"/>
<circle cx="557.24" cy="201.74" r="1.9" class="b p"/>
<circle cx="554.18" cy="204.79" r="1.9" class="b p"/>
<circle cx="550.04" cy="206.76" r="1.9" class="b p"/>
<circle cx="549.38" cy="206.97" r="1.9" class="b p"/>
<circle cx="553.53" cy="208.94" r="1.9" class="b p"/>
<circle cx="560.95" cy="208.5" r="1.9" class="b p"/>
<circle cx="567.28" cy="206.76" r="1.9" class="b p"/>
<circle cx="570.56" cy="206.76" r="1.9" class="b p"/>
<circle cx="571.87" cy="212" r="1.9" class="b p"/>
<circle cx="542.61" cy="211.12" r="1.9" class="b p"/>
<circle cx="538.9" cy="212.65" r="1.9" class="b p"/>
<circle cx="531.92" cy="212.43" r="1.9" class="b p"/>
<circle cx="541.52" cy="220.07" r="1.9" class="b p"/>
<circle cx="552.87" cy="218.54" r="1.9" class="b p"/>
<circle cx="568.81" cy="219.2" r="1.9" class="b p"/>
<circle cx="561.17" cy="227.06" r="1.9" class="b p"/>
<circle cx="555.28" cy="231.42" r="1.9" class="b p"/>
<circle cx="555.93" cy="234.92" r="1.9" class="b p"/>
<circle cx="543.05" cy="236.66" r="1.9" class="b p"/>
<circle cx="583.51" cy="160.26" r="1.9" class="b p"/>
<circle cx="581.77" cy="168.77" r="1.9" class="b p"/>
<circle cx="583.51" cy="186.02" r="1.9" class="b p"/>
<circle cx="581.33" cy="191.91" r="1.9" class="b p"/>
<circle cx="583.51" cy="193.44" r="1.9" class="b p"/>
<circle cx="581.77" cy="214.4" r="1.9" class="b p"/>
<circle cx="582.86" cy="220.07" r="1.9" class="b p"/>
<circle cx="583.95" cy="231.2" r="1.9" class="b p"/>
<circle cx="584.17" cy="197.81" r="1.9" class="b p"/>
<circle cx="587.22" cy="195.19" r="1.9" class="b p"/>
<circle cx="594.21" cy="191.69" r="1.9" class="b p"/>
<circle cx="606.65" cy="181" r="1.9" class="b p"/>
<circle cx="602.5" cy="200.43" r="1.9" class="b p"/>
<circle cx="590.72" cy="206.1" r="1.9" class="b p"/>
<circle cx="595.08" cy="206.32" r="1.9" class="b p"/>
<circle cx="585.26" cy="223.56" r="1.9" class="b p"/>
<circle cx="603.38" cy="221.38" r="1.9" class="b p"/>
<circle cx="593.12" cy="225.09" r="1.9" class="b p"/>
<circle cx="605.34" cy="229.24" r="1.9" class="b p"/>
<circle cx="586.35" cy="231.86" r="1.9" class="b p"/>
<circle cx="613.86" cy="236.23" r="1.9" class="b p"/>
<circle cx="621.71" cy="243.65" r="1.9" class="b p"/>
<circle cx="626.74" cy="248.67" r="1.9" class="b p"/>
<circle cx="632.19" cy="242.34" r="1.9" class="b p"/>
<circle cx="632.41" cy="249.54" r="1.9" class="b p"/>
<circle cx="636.56" cy="248.67" r="1.9" class="b p"/>
<circle cx="633.07" cy="254.78" r="1.9" class="b p"/>
<circle cx="644.2" cy="241.9" r="1.9" class="b p"/>
<circle cx="644.2" cy="248.67" r="1.9" class="b p"/>
<circle cx="645.29" cy="251.07" r="1.9" class="b p"/>
<circle cx="642.23" cy="252.16" r="1.9" class="b p"/>
<circle cx="649.66" cy="253.91" r="1.9" class="b p"/>
<circle cx="652.28" cy="257.18" r="1.9" class="b p"/>
<circle cx="655.77" cy="258.71" r="1.9" class="b p"/>
<circle cx="645.29" cy="258.49" r="1.9" class="b p"/>
<circle cx="647.47" cy="258.71" r="1.9" class="b p"/>
<circle cx="656.86" cy="249.98" r="1.9" class="b p"/>
<circle cx="658.39" cy="247.14" r="1.9" class="b p"/>
<circle cx="659.26" cy="244.3" r="1.9" class="b p"/>
<circle cx="667.99" cy="242.34" r="1.9" class="b p"/>
<circle cx="661.23" cy="252.6" r="1.9" class="b p"/>
<circle cx="662.32" cy="254.56" r="1.9" class="b p"/>
<circle cx="663.63" cy="255.87" r="1.9" class="b p"/>
<circle cx="665.15" cy="254.34" r="1.9" class="b p"/>
<circle cx="666.25" cy="252.38" r="1.9" class="b p"/>
<circle cx="664.5" cy="258.49" r="1.9" class="b p"/>
<circle cx="667.56" cy="258.49" r="1.9" class="b p"/>
<circle cx="671.05" cy="251.94" r="1.9" class="b p"/>
<circle cx="670.18" cy="249.98" r="1.9" class="b p"/>
<circle cx="673.23" cy="249.32" r="1.9" class="b p"/>
<circle cx="643.98" cy="275.96" r="1.9" class="b p"/>
<circle cx="551.35" cy="239.94" r="1.9" class="o p"/>
<circle cx="554.18" cy="242.77" r="1.9" class="o p"/>
<circle cx="570.56" cy="240.81" r="1.9" class="o p"/>
<circle cx="538.47" cy="245.61" r="1.9" class="o p"/>
<circle cx="600.54" cy="238.41" r="1.9" class="o p"/>
<circle cx="585.7" cy="245.61" r="1.9" class="o p"/>
<circle cx="595.96" cy="254.13" r="1.9" class="o p"/>
<circle cx="635.25" cy="233.61" r="1.9" class="g p"/>
<line x1="483.5" y1="232.2" x2="679" y2="232.2" class="dh"/>
<line x1="483.5" y1="238.3" x2="679" y2="238.3" class="dh"/>
<line x1="483.5" y1="242.8" x2="679" y2="242.8" class="dhl"/>
<line x1="616.5" y1="154.4" x2="616.5" y2="281.45" class="dd" stroke-dashoffset="-2.8"/>
<line x1="483.5" y1="154.4" x2="679" y2="154.4" class="bt"/>
<polyline points="483.5,154.4 483.5,281.45 679,281.45 679,154.4" class="bd"/>
<line x1="481.1" y1="160.9" x2="483.5" y2="160.9" class="tk"/>
<text x="479.4" y="163.65" class="yl">150</text>
<line x1="481.1" y1="190.5" x2="483.5" y2="190.5" class="tk"/>
<text x="479.4" y="193.25" class="yl">100</text>
<line x1="481.1" y1="220.3" x2="483.5" y2="220.3" class="tk"/>
<text x="479.4" y="223.05" class="yl">50</text>
<line x1="481.1" y1="232.2" x2="483.5" y2="232.2" class="tk2"/>
<text x="479.4" y="234.95" class="yl">30</text>
<line x1="481.1" y1="238.3" x2="483.5" y2="238.3" class="tk2"/>
<text x="479.4" y="241.05" class="yl">20</text>
<line x1="481.1" y1="242.8" x2="483.5" y2="242.8" class="tkl"/>
<text x="479.4" y="245.55" class="yl">12</text>
<line x1="481.1" y1="250" x2="483.5" y2="250" class="tk"/>
<text x="479.4" y="252.75" class="yl">0</text>
<line x1="481.1" y1="279.7" x2="483.5" y2="279.7" class="tk"/>
<text x="479.4" y="282.45" class="yl">-50</text>
<line x1="483.5" y1="281.45" x2="483.5" y2="283.85" class="tk"/>
<text x="483.5" y="291.85" class="xl">0.00</text>
<line x1="522.5" y1="281.45" x2="522.5" y2="283.85" class="tk"/>
<text x="522.5" y="291.85" class="xl">0.02</text>
<line x1="561.5" y1="281.45" x2="561.5" y2="283.85" class="tk"/>
<text x="561.5" y="291.85" class="xl">0.04</text>
<line x1="600.5" y1="281.45" x2="600.5" y2="283.85" class="tk"/>
<text x="600.5" y="291.85" class="xl">0.06</text>
<line x1="639.5" y1="281.45" x2="639.5" y2="283.85" class="tk"/>
<text x="639.5" y="291.85" class="xl">0.08</text>
<line x1="678.5" y1="281.45" x2="678.5" y2="283.85" class="tk"/>
<text x="676" y="291.85" class="xl">0.10</text>
<text x="541" y="301.7" class="atc" textLength="69.4" lengthAdjust="spacingAndGlyphs">Lumipulse Aβ42/Aβ40</text>
<text transform="translate(464.9,218.7) rotate(-90)" class="at" text-anchor="middle">Centiloid</text>
<line x1="29.45" y1="317.4" x2="224.5" y2="317.4" class="gr"/>
<line x1="29.45" y1="347.1" x2="224.5" y2="347.1" class="gr"/>
<line x1="29.45" y1="376.7" x2="224.5" y2="376.7" class="gr"/>
<line x1="29.45" y1="406.3" x2="224.5" y2="406.3" class="gr"/>
<line x1="29.45" y1="436" x2="224.5" y2="436" class="gr"/>
<line x1="32" y1="311.5" x2="32" y2="438" class="gr"/>
<line x1="59.5" y1="311.5" x2="59.5" y2="438" class="gr"/>
<line x1="87" y1="311.5" x2="87" y2="438" class="gr"/>
<line x1="114.5" y1="311.5" x2="114.5" y2="438" class="gr"/>
<line x1="142" y1="311.5" x2="142" y2="438" class="gr"/>
<line x1="169.5" y1="311.5" x2="169.5" y2="438" class="gr"/>
<line x1="197" y1="311.5" x2="197" y2="438" class="gr"/>
<circle cx="106.2" cy="316.79" r="1.9" class="b p"/>
<circle cx="75.64" cy="325.08" r="1.9" class="b p"/>
<circle cx="115.59" cy="339.27" r="1.9" class="b p"/>
<circle cx="84.81" cy="344.51" r="1.9" class="b p"/>
<circle cx="96.16" cy="343.42" r="1.9" class="b p"/>
<circle cx="102.28" cy="342.76" r="1.9" class="b p"/>
<circle cx="112.32" cy="347.13" r="1.9" class="b p"/>
<circle cx="80.23" cy="349.97" r="1.9" class="b p"/>
<circle cx="102.49" cy="349.75" r="1.9" class="b p"/>
<circle cx="103.59" cy="354.33" r="1.9" class="b p"/>
<circle cx="123.01" cy="351.06" r="1.9" class="b p"/>
<circle cx="123.89" cy="354.12" r="1.9" class="b p"/>
<circle cx="87.21" cy="355.64" r="1.9" class="b p"/>
<circle cx="73.46" cy="365.03" r="1.9" class="b p"/>
<circle cx="83.07" cy="363.28" r="1.9" class="b p"/>
<circle cx="88.52" cy="362.41" r="1.9" class="b p"/>
<circle cx="96.82" cy="363.07" r="1.9" class="b p"/>
<circle cx="107.95" cy="368.09" r="1.9" class="b p"/>
<circle cx="114.5" cy="367.65" r="1.9" class="b p"/>
<circle cx="121.92" cy="369.18" r="1.9" class="b p"/>
<circle cx="81.32" cy="370.71" r="1.9" class="b p"/>
<circle cx="102.28" cy="374.85" r="1.9" class="b p"/>
<circle cx="81.1" cy="381.4" r="1.9" class="b p"/>
<circle cx="96.16" cy="383.37" r="1.9" class="b p"/>
<circle cx="77.39" cy="387.73" r="1.9" class="b p"/>
<circle cx="87.65" cy="387.73" r="1.9" class="b p"/>
<circle cx="73.46" cy="391.23" r="1.9" class="b p"/>
<circle cx="90.27" cy="392.75" r="1.9" class="b p"/>
<circle cx="68.66" cy="394.94" r="1.9" class="b p"/>
<circle cx="69.97" cy="402.14" r="1.9" class="b p"/>
<circle cx="62.55" cy="399.96" r="1.9" class="b p"/>
<circle cx="63.64" cy="407.38" r="1.9" class="b p"/>
<circle cx="60.58" cy="410.65" r="1.9" class="b p"/>
<circle cx="58.18" cy="414.8" r="1.9" class="b p"/>
<circle cx="60.58" cy="414.8" r="1.9" class="b p"/>
<circle cx="51.85" cy="415.89" r="1.9" class="b p"/>
<circle cx="40.94" cy="414.8" r="1.9" class="b p"/>
<circle cx="44.21" cy="413.49" r="1.9" class="b p"/>
<circle cx="37.88" cy="401.7" r="1.9" class="b p"/>
<circle cx="44.86" cy="398.87" r="1.9" class="b p"/>
<circle cx="45.3" cy="400.83" r="1.9" class="b p"/>
<circle cx="50.76" cy="400.61" r="1.9" class="b p"/>
<circle cx="36.57" cy="404.54" r="1.9" class="b p"/>
<circle cx="38.53" cy="406.51" r="1.9" class="b p"/>
<circle cx="40.28" cy="405.41" r="1.9" class="b p"/>
<circle cx="43.77" cy="405.2" r="1.9" class="b p"/>
<circle cx="42.46" cy="408.69" r="1.9" class="b p"/>
<circle cx="47.7" cy="406.07" r="1.9" class="b p"/>
<circle cx="50.1" cy="406.94" r="1.9" class="b p"/>
<circle cx="52.29" cy="407.6" r="1.9" class="b p"/>
<circle cx="54.91" cy="405.63" r="1.9" class="b p"/>
<circle cx="47.48" cy="410.87" r="1.9" class="b p"/>
<circle cx="50.1" cy="411.75" r="1.9" class="b p"/>
<circle cx="52.72" cy="409.78" r="1.9" class="b p"/>
<circle cx="52.94" cy="432.26" r="1.9" class="b p"/>
<circle cx="130.68" cy="336.43" r="1.9" class="b p"/>
<circle cx="140.72" cy="350.19" r="1.9" class="b p"/>
<circle cx="150.32" cy="357.83" r="1.9" class="b p"/>
<circle cx="176.74" cy="327.27" r="1.9" class="b p"/>
<circle cx="173.02" cy="346.48" r="1.9" class="b p"/>
<circle cx="174.99" cy="353.9" r="1.9" class="b p"/>
<circle cx="167.13" cy="363.07" r="1.9" class="b p"/>
<circle cx="171.28" cy="365.25" r="1.9" class="b p"/>
<circle cx="197.25" cy="368.74" r="1.9" class="b p"/>
<circle cx="200.97" cy="365.47" r="1.9" class="b p"/>
<circle cx="70.19" cy="320.28" r="1.9" class="o p"/>
<circle cx="50.54" cy="337.53" r="1.9" class="o p"/>
<circle cx="60.36" cy="344.51" r="1.9" class="o p"/>
<circle cx="59.93" cy="348" r="1.9" class="o p"/>
<circle cx="63.42" cy="350.84" r="1.9" class="o p"/>
<circle cx="55.12" cy="351.71" r="1.9" class="o p"/>
<circle cx="56.87" cy="363.07" r="1.9" class="o p"/>
<circle cx="69.75" cy="362.85" r="1.9" class="o p"/>
<circle cx="62.76" cy="378.13" r="1.9" class="o p"/>
<circle cx="45.96" cy="385.77" r="1.9" class="o p"/>
<circle cx="55.34" cy="388.17" r="1.9" class="o p"/>
<circle cx="52.72" cy="392.32" r="1.9" class="o p"/>
<circle cx="89.18" cy="397.34" r="1.9" class="g p"/>
<circle cx="99" cy="408.91" r="1.9" class="g p"/>
<circle cx="135.04" cy="396.68" r="1.9" class="g p"/>
<line x1="29.45" y1="388.5" x2="224.5" y2="388.5" class="dh"/>
<line x1="29.45" y1="394.4" x2="224.5" y2="394.4" class="dh"/>
<line x1="70.4" y1="311.5" x2="70.4" y2="438" class="dd" stroke-dashoffset="-2.2"/>
<line x1="29.45" y1="311.5" x2="224.5" y2="311.5" class="bt"/>
<polyline points="29.45,311.5 29.45,438 224.5,438 224.5,311.5" class="bd"/>
<line x1="27.05" y1="317.4" x2="29.45" y2="317.4" class="tk"/>
<text x="25.35" y="320.15" class="yl">150</text>
<line x1="27.05" y1="347.1" x2="29.45" y2="347.1" class="tk"/>
<text x="25.35" y="349.85" class="yl">100</text>
<line x1="27.05" y1="376.7" x2="29.45" y2="376.7" class="tk"/>
<text x="25.35" y="379.45" class="yl">50</text>
<line x1="27.05" y1="388.5" x2="29.45" y2="388.5" class="tk2"/>
<text x="25.35" y="391.25" class="yl">30</text>
<line x1="27.05" y1="394.4" x2="29.45" y2="394.4" class="tk2"/>
<text x="25.35" y="397.15" class="yl">20</text>
<line x1="27.05" y1="406.3" x2="29.45" y2="406.3" class="tk"/>
<text x="25.35" y="409.05" class="yl">0</text>
<line x1="27.05" y1="436" x2="29.45" y2="436" class="tk"/>
<text x="25.35" y="438.75" class="yl">-50</text>
<line x1="32" y1="438" x2="32" y2="440.4" class="tk"/>
<text x="32" y="447.9" class="xl">0.0</text>
<line x1="59.5" y1="438" x2="59.5" y2="440.4" class="tk"/>
<text x="59.5" y="447.9" class="xl">0.5</text>
<line x1="87" y1="438" x2="87" y2="440.4" class="tk"/>
<text x="87" y="447.9" class="xl">1.0</text>
<line x1="114.5" y1="438" x2="114.5" y2="440.4" class="tk"/>
<text x="114.5" y="447.9" class="xl">1.5</text>
<line x1="142" y1="438" x2="142" y2="440.4" class="tk"/>
<text x="142" y="447.9" class="xl">2.0</text>
<line x1="169.5" y1="438" x2="169.5" y2="440.4" class="tk"/>
<text x="169.5" y="447.9" class="xl">2.5</text>
<line x1="197" y1="438" x2="197" y2="440.4" class="tk"/>
<text x="197" y="447.9" class="xl">3.0</text>
<line x1="224.5" y1="438" x2="224.5" y2="440.4" class="tk"/>
<text x="224.5" y="447.9" class="xl">3.5</text>
<text x="91.3" y="457" class="at" textLength="70.4" lengthAdjust="spacingAndGlyphs">Innogenetics t-tau/Aβ42</text>
<text transform="translate(10.5,374) rotate(-90)" class="at" text-anchor="middle">Centiloid</text>
<line x1="253.55" y1="339.3" x2="448.6" y2="339.3" class="gr"/>
<line x1="253.55" y1="378.5" x2="448.6" y2="378.5" class="gr"/>
<line x1="253.55" y1="417.4" x2="448.6" y2="417.4" class="gr"/>
<line x1="269.4" y1="311.4" x2="269.4" y2="438" class="gr"/>
<line x1="310.12" y1="311.4" x2="310.12" y2="438" class="gr"/>
<line x1="350.85" y1="311.4" x2="350.85" y2="438" class="gr"/>
<line x1="391.57" y1="311.4" x2="391.57" y2="438" class="gr"/>
<line x1="432.3" y1="311.4" x2="432.3" y2="438" class="gr"/>
<circle cx="328.55" cy="316.79" r="1.9" class="b p"/>
<circle cx="299.95" cy="332.72" r="1.9" class="b p"/>
<circle cx="315.67" cy="341.67" r="1.9" class="b p"/>
<circle cx="298.43" cy="350.4" r="1.9" class="b p"/>
<circle cx="348.85" cy="352.37" r="1.9" class="b p"/>
<circle cx="352.78" cy="359.57" r="1.9" class="b p"/>
<circle cx="330.95" cy="365.47" r="1.9" class="b p"/>
<circle cx="344.7" cy="366.34" r="1.9" class="b p"/>
<circle cx="296.46" cy="378.13" r="1.9" class="b p"/>
<circle cx="311.09" cy="376.82" r="1.9" class="b p"/>
<circle cx="317.42" cy="379.87" r="1.9" class="b p"/>
<circle cx="337.28" cy="377.04" r="1.9" class="b p"/>
<circle cx="300.17" cy="385.33" r="1.9" class="b p"/>
<circle cx="322.87" cy="387.95" r="1.9" class="b p"/>
<circle cx="317.42" cy="390.13" r="1.9" class="b p"/>
<circle cx="291" cy="403.45" r="1.9" class="b p"/>
<circle cx="277.47" cy="403.89" r="1.9" class="b p"/>
<circle cx="276.81" cy="406.72" r="1.9" class="b p"/>
<circle cx="282.27" cy="407.82" r="1.9" class="b p"/>
<circle cx="286.2" cy="412.4" r="1.9" class="b p"/>
<circle cx="284.02" cy="412.84" r="1.9" class="b p"/>
<circle cx="278.12" cy="414.58" r="1.9" class="b p"/>
<circle cx="274.63" cy="417.86" r="1.9" class="b p"/>
<circle cx="276.38" cy="418.73" r="1.9" class="b p"/>
<circle cx="278.56" cy="417.64" r="1.9" class="b p"/>
<circle cx="280.31" cy="419.39" r="1.9" class="b p"/>
<circle cx="281.18" cy="420.7" r="1.9" class="b p"/>
<circle cx="282.93" cy="415.89" r="1.9" class="b p"/>
<circle cx="285.11" cy="416.33" r="1.9" class="b p"/>
<circle cx="285.11" cy="420.7" r="1.9" class="b p"/>
<circle cx="290.57" cy="418.29" r="1.9" class="b p"/>
<circle cx="293.84" cy="416.11" r="1.9" class="b p"/>
<circle cx="295.59" cy="416.98" r="1.9" class="b p"/>
<circle cx="277.91" cy="422.44" r="1.9" class="b p"/>
<circle cx="281.62" cy="423.97" r="1.9" class="b p"/>
<circle cx="286.2" cy="423.31" r="1.9" class="b p"/>
<circle cx="290.57" cy="423.97" r="1.9" class="b p"/>
<circle cx="285.55" cy="427.24" r="1.9" class="b p"/>
<circle cx="288.38" cy="427.9" r="1.9" class="b p"/>
<circle cx="278.78" cy="432.26" r="1.9" class="b p"/>
<circle cx="275.5" cy="418.95" r="1.9" class="b p"/>
<circle cx="361.79" cy="358.05" r="1.9" class="b p"/>
<circle cx="366.59" cy="361.32" r="1.9" class="b p"/>
<circle cx="414.61" cy="349.53" r="1.9" class="b p"/>
<circle cx="427.28" cy="349.75" r="1.9" class="b p"/>
<circle cx="428.15" cy="334.25" r="1.9" class="b p"/>
<circle cx="419.85" cy="377.91" r="1.9" class="b p"/>
<circle cx="291" cy="362.85" r="1.9" class="o p"/>
<circle cx="287.95" cy="382.71" r="1.9" class="o p"/>
<circle cx="285.98" cy="395.81" r="1.9" class="o p"/>
<circle cx="298.86" cy="406.94" r="1.9" class="g p"/>
<circle cx="307.81" cy="420.48" r="1.9" class="g p"/>
<circle cx="313.27" cy="422.44" r="1.9" class="g p"/>
<line x1="253.55" y1="393.8" x2="448.6" y2="393.8" class="dh"/>
<line x1="253.55" y1="401.5" x2="448.6" y2="401.5" class="dh"/>
<line x1="296" y1="311.4" x2="296" y2="438" class="dv" stroke-dashoffset="-2.4"/>
<line x1="253.55" y1="311.4" x2="448.6" y2="311.4" class="bt"/>
<polyline points="253.55,311.4 253.55,438 448.6,438 448.6,311.4" class="bd"/>
<line x1="251.15" y1="339.3" x2="253.55" y2="339.3" class="tk"/>
<text x="249.45" y="342.05" class="yl">100</text>
<line x1="251.15" y1="378.5" x2="253.55" y2="378.5" class="tk"/>
<text x="249.45" y="381.25" class="yl">50</text>
<line x1="251.15" y1="393.8" x2="253.55" y2="393.8" class="tk2"/>
<text x="249.45" y="396.55" class="yl">30</text>
<line x1="251.15" y1="401.5" x2="253.55" y2="401.5" class="tk2"/>
<text x="249.45" y="404.25" class="yl">20</text>
<line x1="251.15" y1="417.4" x2="253.55" y2="417.4" class="tk"/>
<text x="249.45" y="420.15" class="yl">0</text>
<line x1="269.4" y1="438" x2="269.4" y2="440.4" class="tk"/>
<text x="269.4" y="447.9" class="xl">0.000</text>
<line x1="310.12" y1="438" x2="310.12" y2="440.4" class="tk"/>
<text x="310.12" y="447.9" class="xl">0.125</text>
<line x1="350.85" y1="438" x2="350.85" y2="440.4" class="tk"/>
<text x="350.85" y="447.9" class="xl">0.250</text>
<line x1="391.57" y1="438" x2="391.57" y2="440.4" class="tk"/>
<text x="391.57" y="447.9" class="xl">0.375</text>
<line x1="432.3" y1="438" x2="432.3" y2="440.4" class="tk"/>
<text x="432.3" y="447.9" class="xl">0.500</text>
<text x="320.1" y="458.7" class="atc" textLength="85.5" lengthAdjust="spacingAndGlyphs">Euroimmun p-tau181/Aβ42</text>
<text transform="translate(234.9,374.7) rotate(-90)" class="at" text-anchor="middle">Centiloid</text>
<line x1="483.95" y1="317.4" x2="679.4" y2="317.4" class="gr"/>
<line x1="483.95" y1="347" x2="679.4" y2="347" class="gr"/>
<line x1="483.95" y1="376.5" x2="679.4" y2="376.5" class="gr"/>
<line x1="483.95" y1="406" x2="679.4" y2="406" class="gr"/>
<line x1="483.95" y1="435.8" x2="679.4" y2="435.8" class="gr"/>
<line x1="500.5" y1="310.5" x2="500.5" y2="437.4" class="gr"/>
<line x1="541.08" y1="310.5" x2="541.08" y2="437.4" class="gr"/>
<line x1="581.65" y1="310.5" x2="581.65" y2="437.4" class="gr"/>
<line x1="622.23" y1="310.5" x2="622.23" y2="437.4" class="gr"/>
<line x1="662.8" y1="310.5" x2="662.8" y2="437.4" class="gr"/>
<circle cx="557.9" cy="324.65" r="1.9" class="b p"/>
<circle cx="570.56" cy="342.11" r="1.9" class="b p"/>
<circle cx="580.38" cy="344.29" r="1.9" class="b p"/>
<circle cx="579.72" cy="346.26" r="1.9" class="b p"/>
<circle cx="535.63" cy="348.22" r="1.9" class="b p"/>
<circle cx="540" cy="347.79" r="1.9" class="b p"/>
<circle cx="536.94" cy="351.28" r="1.9" class="b p"/>
<circle cx="569.25" cy="349.53" r="1.9" class="b p"/>
<circle cx="570.99" cy="350.84" r="1.9" class="b p"/>
<circle cx="559.42" cy="350.4" r="1.9" class="b p"/>
<circle cx="553.09" cy="353.68" r="1.9" class="b p"/>
<circle cx="556.59" cy="356.52" r="1.9" class="b p"/>
<circle cx="561.17" cy="355.21" r="1.9" class="b p"/>
<circle cx="527.99" cy="362.19" r="1.9" class="b p"/>
<circle cx="546.54" cy="362.63" r="1.9" class="b p"/>
<circle cx="553.97" cy="361.97" r="1.9" class="b p"/>
<circle cx="554.62" cy="362.85" r="1.9" class="b p"/>
<circle cx="559.42" cy="362.63" r="1.9" class="b p"/>
<circle cx="582.78" cy="354.33" r="1.9" class="b p"/>
<circle cx="556.37" cy="370.27" r="1.9" class="b p"/>
<circle cx="569.25" cy="367.21" r="1.9" class="b p"/>
<circle cx="570.56" cy="374.42" r="1.9" class="b p"/>
<circle cx="577.54" cy="375.95" r="1.9" class="b p"/>
<circle cx="537.38" cy="375.07" r="1.9" class="b p"/>
<circle cx="529.95" cy="376.16" r="1.9" class="b p"/>
<circle cx="527.12" cy="377.47" r="1.9" class="b p"/>
<circle cx="531.48" cy="379.44" r="1.9" class="b p"/>
<circle cx="547.64" cy="380.97" r="1.9" class="b p"/>
<circle cx="581.91" cy="382.93" r="1.9" class="b p"/>
<circle cx="546.76" cy="387.3" r="1.9" class="b p"/>
<circle cx="530.39" cy="387.08" r="1.9" class="b p"/>
<circle cx="528.21" cy="387.95" r="1.9" class="b p"/>
<circle cx="563.35" cy="392.32" r="1.9" class="b p"/>
<circle cx="517.73" cy="398.21" r="1.9" class="b p"/>
<circle cx="508.56" cy="399.3" r="1.9" class="b p"/>
<circle cx="510.74" cy="398.43" r="1.9" class="b p"/>
<circle cx="510.31" cy="400.18" r="1.9" class="b p"/>
<circle cx="512.93" cy="400.18" r="1.9" class="b p"/>
<circle cx="509" cy="405.41" r="1.9" class="b p"/>
<circle cx="510.74" cy="405.85" r="1.9" class="b p"/>
<circle cx="513.58" cy="404.32" r="1.9" class="b p"/>
<circle cx="515.11" cy="405.41" r="1.9" class="b p"/>
<circle cx="517.29" cy="405.41" r="1.9" class="b p"/>
<circle cx="509.43" cy="409.78" r="1.9" class="b p"/>
<circle cx="511.84" cy="408.47" r="1.9" class="b p"/>
<circle cx="514.02" cy="407.6" r="1.9" class="b p"/>
<circle cx="515.76" cy="409.34" r="1.9" class="b p"/>
<circle cx="512.27" cy="411.96" r="1.9" class="b p"/>
<circle cx="515.11" cy="411.96" r="1.9" class="b p"/>
<circle cx="511.84" cy="413.27" r="1.9" class="b p"/>
<circle cx="516.2" cy="414.15" r="1.9" class="b p"/>
<circle cx="518.38" cy="414.58" r="1.9" class="b p"/>
<circle cx="521.66" cy="414.58" r="1.9" class="b p"/>
<circle cx="524.06" cy="410" r="1.9" class="b p"/>
<circle cx="525.15" cy="431.61" r="1.9" class="b p"/>
<circle cx="594.43" cy="316.35" r="1.9" class="b p"/>
<circle cx="604.03" cy="319.84" r="1.9" class="b p"/>
<circle cx="644.42" cy="326.83" r="1.9" class="b p"/>
<circle cx="601.2" cy="336" r="1.9" class="b p"/>
<circle cx="595.3" cy="338.84" r="1.9" class="b p"/>
<circle cx="587.01" cy="342.98" r="1.9" class="b p"/>
<circle cx="598.79" cy="349.31" r="1.9" class="b p"/>
<circle cx="603.16" cy="353.46" r="1.9" class="b p"/>
<circle cx="600.76" cy="362.63" r="1.9" class="b p"/>
<circle cx="598.58" cy="364.38" r="1.9" class="b p"/>
<circle cx="594.65" cy="367.87" r="1.9" class="b p"/>
<circle cx="619.1" cy="368.74" r="1.9" class="b p"/>
<circle cx="635.47" cy="364.81" r="1.9" class="b p"/>
<circle cx="658.82" cy="353.46" r="1.9" class="b p"/>
<circle cx="664.28" cy="351.5" r="1.9" class="b p"/>
<circle cx="666.03" cy="357.39" r="1.9" class="b p"/>
<circle cx="676.29" cy="368.3" r="1.9" class="b p"/>
<circle cx="611.45" cy="391.01" r="1.9" class="b p"/>
<circle cx="522.97" cy="385.11" r="1.9" class="o p"/>
<circle cx="520.79" cy="389.7" r="1.9" class="o p"/>
<circle cx="527.77" cy="394.28" r="1.9" class="g p"/>
<circle cx="551.56" cy="401.49" r="1.9" class="g p"/>
<circle cx="571.65" cy="396.46" r="1.9" class="g p"/>
<circle cx="630.88" cy="395.81" r="1.9" class="g p"/>
<line x1="483.95" y1="388.3" x2="679.4" y2="388.3" class="dh"/>
<line x1="483.95" y1="394.2" x2="679.4" y2="394.2" class="dh"/>
<line x1="526.5" y1="310.5" x2="526.5" y2="437.4" class="dd" stroke-dashoffset="-2.8"/>
<line x1="483.95" y1="310.5" x2="679.4" y2="310.5" class="bt"/>
<polyline points="483.95,310.5 483.95,437.4 679.4,437.4 679.4,310.5" class="bd"/>
<line x1="481.55" y1="317.4" x2="483.95" y2="317.4" class="tk"/>
<text x="479.85" y="320.15" class="yl">150</text>
<line x1="481.55" y1="347" x2="483.95" y2="347" class="tk"/>
<text x="479.85" y="349.75" class="yl">100</text>
<line x1="481.55" y1="376.5" x2="483.95" y2="376.5" class="tk"/>
<text x="479.85" y="379.25" class="yl">50</text>
<line x1="481.55" y1="388.3" x2="483.95" y2="388.3" class="tk2"/>
<text x="479.85" y="391.05" class="yl">30</text>
<line x1="481.55" y1="394.2" x2="483.95" y2="394.2" class="tk2"/>
<text x="479.85" y="396.95" class="yl">20</text>
<line x1="481.55" y1="406" x2="483.95" y2="406" class="tk"/>
<text x="479.85" y="408.75" class="yl">0</text>
<line x1="481.55" y1="435.8" x2="483.95" y2="435.8" class="tk"/>
<text x="479.85" y="438.55" class="yl">-50</text>
<line x1="500.5" y1="437.4" x2="500.5" y2="439.8" class="tk"/>
<text x="500.5" y="447.4" class="xl">0.000</text>
<line x1="541.08" y1="437.4" x2="541.08" y2="439.8" class="tk"/>
<text x="541.08" y="447.4" class="xl">0.125</text>
<line x1="581.65" y1="437.4" x2="581.65" y2="439.8" class="tk"/>
<text x="581.65" y="447.4" class="xl">0.250</text>
<line x1="622.23" y1="437.4" x2="622.23" y2="439.8" class="tk"/>
<text x="622.23" y="447.4" class="xl">0.375</text>
<line x1="662.8" y1="437.4" x2="662.8" y2="439.8" class="tk"/>
<text x="662.8" y="447.4" class="xl">0.500</text>
<text x="541" y="458.7" class="atc" textLength="80.7" lengthAdjust="spacingAndGlyphs">Lumipulse p-tau181/Aβ42</text>
<text transform="translate(465.9,374.2) rotate(-90)" class="at" text-anchor="middle">Centiloid</text>
<line x1="256.55" y1="495.4" x2="452.5" y2="495.4" class="gr"/>
<line x1="256.55" y1="534.2" x2="452.5" y2="534.2" class="gr"/>
<line x1="256.55" y1="573.1" x2="452.5" y2="573.1" class="gr"/>
<line x1="260" y1="467.5" x2="260" y2="593.9" class="gr"/>
<line x1="287.5" y1="467.5" x2="287.5" y2="593.9" class="gr"/>
<line x1="315" y1="467.5" x2="315" y2="593.9" class="gr"/>
<line x1="342.5" y1="467.5" x2="342.5" y2="593.9" class="gr"/>
<line x1="370" y1="467.5" x2="370" y2="593.9" class="gr"/>
<line x1="397.5" y1="467.5" x2="397.5" y2="593.9" class="gr"/>
<line x1="425" y1="467.5" x2="425" y2="593.9" class="gr"/>
<circle cx="314.61" cy="472.88" r="1.9" class="b p"/>
<circle cx="333.17" cy="490.12" r="1.9" class="b p"/>
<circle cx="327.93" cy="498.2" r="1.9" class="b p"/>
<circle cx="317.02" cy="505.4" r="1.9" class="b p"/>
<circle cx="335.79" cy="505.84" r="1.9" class="b p"/>
<circle cx="303.92" cy="508.24" r="1.9" class="b p"/>
<circle cx="305.23" cy="513.92" r="1.9" class="b p"/>
<circle cx="311.12" cy="515.66" r="1.9" class="b p"/>
<circle cx="314.83" cy="516.97" r="1.9" class="b p"/>
<circle cx="303.92" cy="521.34" r="1.9" class="b p"/>
<circle cx="342.34" cy="522.21" r="1.9" class="b p"/>
<circle cx="306.97" cy="532.69" r="1.9" class="b p"/>
<circle cx="302.83" cy="535.75" r="1.9" class="b p"/>
<circle cx="315.49" cy="534" r="1.9" class="b p"/>
<circle cx="331.42" cy="533.13" r="1.9" class="b p"/>
<circle cx="318.33" cy="543.61" r="1.9" class="b p"/>
<circle cx="327.28" cy="546.01" r="1.9" class="b p"/>
<circle cx="266.81" cy="559.76" r="1.9" class="b p"/>
<circle cx="270.3" cy="559.54" r="1.9" class="b p"/>
<circle cx="268.12" cy="562.6" r="1.9" class="b p"/>
<circle cx="273.36" cy="563.69" r="1.9" class="b p"/>
<circle cx="285.58" cy="562.6" r="1.9" class="b p"/>
<circle cx="275.32" cy="568.06" r="1.9" class="b p"/>
<circle cx="267.03" cy="568.49" r="1.9" class="b p"/>
<circle cx="265.72" cy="570.24" r="1.9" class="b p"/>
<circle cx="262.66" cy="574.82" r="1.9" class="b p"/>
<circle cx="265.28" cy="572.42" r="1.9" class="b p"/>
<circle cx="267.46" cy="571.77" r="1.9" class="b p"/>
<circle cx="268.77" cy="573.51" r="1.9" class="b p"/>
<circle cx="270.74" cy="572.86" r="1.9" class="b p"/>
<circle cx="272.7" cy="571.77" r="1.9" class="b p"/>
<circle cx="270.08" cy="575.7" r="1.9" class="b p"/>
<circle cx="271.39" cy="576.79" r="1.9" class="b p"/>
<circle cx="269.86" cy="578.97" r="1.9" class="b p"/>
<circle cx="272.7" cy="574.39" r="1.9" class="b p"/>
<circle cx="275.76" cy="577.88" r="1.9" class="b p"/>
<circle cx="274.23" cy="580.06" r="1.9" class="b p"/>
<circle cx="280.56" cy="575.7" r="1.9" class="b p"/>
<circle cx="281.87" cy="572.2" r="1.9" class="b p"/>
<circle cx="283.18" cy="574.39" r="1.9" class="b p"/>
<circle cx="287.33" cy="571.55" r="1.9" class="b p"/>
<circle cx="283.62" cy="579.62" r="1.9" class="b p"/>
<circle cx="287.55" cy="583.12" r="1.9" class="b p"/>
<circle cx="293.22" cy="578.97" r="1.9" class="b p"/>
<circle cx="272.05" cy="583.55" r="1.9" class="b p"/>
<circle cx="270.3" cy="588.14" r="1.9" class="b p"/>
<circle cx="367.68" cy="477.9" r="1.9" class="b p"/>
<circle cx="367.9" cy="500.82" r="1.9" class="b p"/>
<circle cx="272.48" cy="488.6" r="1.9" class="o p"/>
<circle cx="283.84" cy="497.76" r="1.9" class="o p"/>
<circle cx="282.74" cy="506.5" r="1.9" class="o p"/>
<circle cx="283.62" cy="538.8" r="1.9" class="o p"/>
<circle cx="274.01" cy="541.42" r="1.9" class="o p"/>
<circle cx="281.87" cy="551.9" r="1.9" class="o p"/>
<circle cx="362.88" cy="578.31" r="1.9" class="g p"/>
<line x1="256.55" y1="549.7" x2="452.5" y2="549.7" class="dh"/>
<line x1="256.55" y1="557.5" x2="452.5" y2="557.5" class="dh"/>
<line x1="298" y1="467.5" x2="298" y2="593.9" class="dv" stroke-dashoffset="-2.4"/>
<line x1="256.55" y1="467.5" x2="452.5" y2="467.5" class="bt"/>
<polyline points="256.55,467.5 256.55,593.9 452.5,593.9 452.5,467.5" class="bd"/>
<line x1="254.15" y1="495.4" x2="256.55" y2="495.4" class="tk"/>
<text x="252.45" y="498.15" class="yl">100</text>
<line x1="254.15" y1="534.2" x2="256.55" y2="534.2" class="tk"/>
<text x="252.45" y="536.95" class="yl">50</text>
<line x1="254.15" y1="549.7" x2="256.55" y2="549.7" class="tk2"/>
<text x="252.45" y="552.45" class="yl">30</text>
<line x1="254.15" y1="557.5" x2="256.55" y2="557.5" class="tk2"/>
<text x="252.45" y="560.25" class="yl">20</text>
<line x1="254.15" y1="573.1" x2="256.55" y2="573.1" class="tk"/>
<text x="252.45" y="575.85" class="yl">0</text>
<line x1="260" y1="593.9" x2="260" y2="596.3" class="tk"/>
<text x="260" y="603.6" class="xl">0.0</text>
<line x1="287.5" y1="593.9" x2="287.5" y2="596.3" class="tk"/>
<text x="287.5" y="603.6" class="xl">0.5</text>
<line x1="315" y1="593.9" x2="315" y2="596.3" class="tk"/>
<text x="315" y="603.6" class="xl">1.0</text>
<line x1="342.5" y1="593.9" x2="342.5" y2="596.3" class="tk"/>
<text x="342.5" y="603.6" class="xl">1.5</text>
<line x1="370" y1="593.9" x2="370" y2="596.3" class="tk"/>
<text x="370" y="603.6" class="xl">2.0</text>
<line x1="397.5" y1="593.9" x2="397.5" y2="596.3" class="tk"/>
<text x="397.5" y="603.6" class="xl">2.5</text>
<line x1="425" y1="593.9" x2="425" y2="596.3" class="tk"/>
<text x="425" y="603.6" class="xl">3.0</text>
<line x1="452.5" y1="593.9" x2="452.5" y2="596.3" class="tk"/>
<text x="452.5" y="603.6" class="xl">3.5</text>
<text x="320.9" y="612.9" class="at" textLength="67.2" lengthAdjust="spacingAndGlyphs">Euroimmun t-tau/Aβ42</text>
<text transform="translate(238.3,530.5) rotate(-90)" class="at" text-anchor="middle">Centiloid</text>
<line x1="482.95" y1="474.7" x2="678.4" y2="474.7" class="gr"/>
<line x1="482.95" y1="504.3" x2="678.4" y2="504.3" class="gr"/>
<line x1="482.95" y1="533.9" x2="678.4" y2="533.9" class="gr"/>
<line x1="482.95" y1="563.4" x2="678.4" y2="563.4" class="gr"/>
<line x1="482.95" y1="593" x2="678.4" y2="593" class="gr"/>
<line x1="486.1" y1="468.5" x2="486.1" y2="595.4" class="gr"/>
<line x1="513.57" y1="468.5" x2="513.57" y2="595.4" class="gr"/>
<line x1="541.04" y1="468.5" x2="541.04" y2="595.4" class="gr"/>
<line x1="568.51" y1="468.5" x2="568.51" y2="595.4" class="gr"/>
<line x1="595.98" y1="468.5" x2="595.98" y2="595.4" class="gr"/>
<line x1="623.45" y1="468.5" x2="623.45" y2="595.4" class="gr"/>
<line x1="650.92" y1="468.5" x2="650.92" y2="595.4" class="gr"/>
<circle cx="540.87" cy="482.3" r="1.9" class="b p"/>
<circle cx="551.56" cy="499.76" r="1.9" class="b p"/>
<circle cx="562.26" cy="501.51" r="1.9" class="b p"/>
<circle cx="522.97" cy="505.66" r="1.9" class="b p"/>
<circle cx="527.12" cy="505.66" r="1.9" class="b p"/>
<circle cx="523.4" cy="508.93" r="1.9" class="b p"/>
<circle cx="537.16" cy="511.55" r="1.9" class="b p"/>
<circle cx="545.02" cy="507.84" r="1.9" class="b p"/>
<circle cx="548.51" cy="506.97" r="1.9" class="b p"/>
<circle cx="559.42" cy="508.06" r="1.9" class="b p"/>
<circle cx="544.14" cy="512.86" r="1.9" class="b p"/>
<circle cx="551.56" cy="513.74" r="1.9" class="b p"/>
<circle cx="563.79" cy="512.21" r="1.9" class="b p"/>
<circle cx="582.13" cy="506.97" r="1.9" class="b p"/>
<circle cx="541.3" cy="520.28" r="1.9" class="b p"/>
<circle cx="546.33" cy="519.85" r="1.9" class="b p"/>
<circle cx="546.98" cy="519.85" r="1.9" class="b p"/>
<circle cx="553.75" cy="527.92" r="1.9" class="b p"/>
<circle cx="566.41" cy="532.29" r="1.9" class="b p"/>
<circle cx="567.06" cy="533.82" r="1.9" class="b p"/>
<circle cx="540" cy="532.73" r="1.9" class="b p"/>
<circle cx="522.97" cy="533.6" r="1.9" class="b p"/>
<circle cx="519.04" cy="534.91" r="1.9" class="b p"/>
<circle cx="530.61" cy="537.09" r="1.9" class="b p"/>
<circle cx="538.69" cy="538.84" r="1.9" class="b p"/>
<circle cx="565.32" cy="540.59" r="1.9" class="b p"/>
<circle cx="527.12" cy="544.95" r="1.9" class="b p"/>
<circle cx="525.59" cy="545.39" r="1.9" class="b p"/>
<circle cx="535.85" cy="544.95" r="1.9" class="b p"/>
<circle cx="545.89" cy="550.19" r="1.9" class="b p"/>
<circle cx="518.17" cy="551.94" r="1.9" class="b p"/>
<circle cx="485.86" cy="555.87" r="1.9" class="b p"/>
<circle cx="495.9" cy="555.87" r="1.9" class="b p"/>
<circle cx="497.65" cy="557.39" r="1.9" class="b p"/>
<circle cx="499.17" cy="555.87" r="1.9" class="b p"/>
<circle cx="501.58" cy="557.18" r="1.9" class="b p"/>
<circle cx="505.5" cy="555.87" r="1.9" class="b p"/>
<circle cx="485.86" cy="564.6" r="1.9" class="b p"/>
<circle cx="496.34" cy="563.07" r="1.9" class="b p"/>
<circle cx="498.08" cy="564.6" r="1.9" class="b p"/>
<circle cx="499.83" cy="566.78" r="1.9" class="b p"/>
<circle cx="502.01" cy="565.91" r="1.9" class="b p"/>
<circle cx="503.32" cy="561.98" r="1.9" class="b p"/>
<circle cx="505.94" cy="562.41" r="1.9" class="b p"/>
<circle cx="506.38" cy="564.16" r="1.9" class="b p"/>
<circle cx="503.76" cy="564.6" r="1.9" class="b p"/>
<circle cx="504.2" cy="568.53" r="1.9" class="b p"/>
<circle cx="499.83" cy="569.4" r="1.9" class="b p"/>
<circle cx="499.39" cy="571.8" r="1.9" class="b p"/>
<circle cx="506.81" cy="568.31" r="1.9" class="b p"/>
<circle cx="509.87" cy="563.07" r="1.9" class="b p"/>
<circle cx="512.49" cy="566.78" r="1.9" class="b p"/>
<circle cx="513.58" cy="565.91" r="1.9" class="b p"/>
<circle cx="517.95" cy="567.87" r="1.9" class="b p"/>
<circle cx="507.91" cy="571.8" r="1.9" class="b p"/>
<circle cx="509.87" cy="572.24" r="1.9" class="b p"/>
<circle cx="510.74" cy="573.11" r="1.9" class="b p"/>
<circle cx="515.55" cy="572.24" r="1.9" class="b p"/>
<circle cx="500.48" cy="567.65" r="1.9" class="b p"/>
<circle cx="593.34" cy="474.01" r="1.9" class="b p"/>
<circle cx="597.05" cy="477.5" r="1.9" class="b p"/>
<circle cx="635.69" cy="484.48" r="1.9" class="b p"/>
<circle cx="595.74" cy="493.65" r="1.9" class="b p"/>
<circle cx="588.53" cy="496.49" r="1.9" class="b p"/>
<circle cx="587.22" cy="500.64" r="1.9" class="b p"/>
<circle cx="584.39" cy="503.48" r="1.9" class="b p"/>
<circle cx="589.41" cy="511.12" r="1.9" class="b p"/>
<circle cx="592.46" cy="520.28" r="1.9" class="b p"/>
<circle cx="594.21" cy="522.03" r="1.9" class="b p"/>
<circle cx="591.15" cy="524.87" r="1.9" class="b p"/>
<circle cx="595.96" cy="526.4" r="1.9" class="b p"/>
<circle cx="600.1" cy="525.3" r="1.9" class="b p"/>
<circle cx="625.43" cy="522.47" r="1.9" class="b p"/>
<circle cx="657.08" cy="511.12" r="1.9" class="b p"/>
<circle cx="665.81" cy="514.83" r="1.9" class="b p"/>
<circle cx="595.74" cy="548.44" r="1.9" class="b p"/>
<circle cx="512.93" cy="494.74" r="1.9" class="o p"/>
<circle cx="512.93" cy="520.07" r="1.9" class="o p"/>
<circle cx="514.89" cy="542.77" r="1.9" class="o p"/>
<circle cx="511.84" cy="547.13" r="1.9" class="o p"/>
<circle cx="515.55" cy="549.75" r="1.9" class="o p"/>
<circle cx="540" cy="559.36" r="1.9" class="g p"/>
<circle cx="563.35" cy="554.12" r="1.9" class="g p"/>
<circle cx="524.93" cy="589.26" r="1.9" class="g p"/>
<circle cx="613.42" cy="553.9" r="1.9" class="g p"/>
<line x1="482.95" y1="545.7" x2="678.4" y2="545.7" class="dh"/>
<line x1="482.95" y1="551.6" x2="678.4" y2="551.6" class="dh"/>
<line x1="518.6" y1="468.5" x2="518.6" y2="595.4" class="dd" stroke-dashoffset="-2.2"/>
<line x1="482.95" y1="468.5" x2="678.4" y2="468.5" class="bt"/>
<polyline points="482.95,468.5 482.95,595.4 678.4,595.4 678.4,468.5" class="bd"/>
<line x1="480.55" y1="474.7" x2="482.95" y2="474.7" class="tk"/>
<text x="478.85" y="477.45" class="yl">150</text>
<line x1="480.55" y1="504.3" x2="482.95" y2="504.3" class="tk"/>
<text x="478.85" y="507.05" class="yl">100</text>
<line x1="480.55" y1="533.9" x2="482.95" y2="533.9" class="tk"/>
<text x="478.85" y="536.65" class="yl">50</text>
<line x1="480.55" y1="545.7" x2="482.95" y2="545.7" class="tk2"/>
<text x="478.85" y="548.45" class="yl">30</text>
<line x1="480.55" y1="551.6" x2="482.95" y2="551.6" class="tk2"/>
<text x="478.85" y="554.35" class="yl">20</text>
<line x1="480.55" y1="563.4" x2="482.95" y2="563.4" class="tk"/>
<text x="478.85" y="566.15" class="yl">0</text>
<line x1="480.55" y1="593" x2="482.95" y2="593" class="tk"/>
<text x="478.85" y="595.75" class="yl">-50</text>
<line x1="486.1" y1="595.4" x2="486.1" y2="597.8" class="tk"/>
<text x="486.1" y="605" class="xl">0.0</text>
<line x1="513.57" y1="595.4" x2="513.57" y2="597.8" class="tk"/>
<text x="513.57" y="605" class="xl">0.5</text>
<line x1="541.04" y1="595.4" x2="541.04" y2="597.8" class="tk"/>
<text x="541.04" y="605" class="xl">1.0</text>
<line x1="568.51" y1="595.4" x2="568.51" y2="597.8" class="tk"/>
<text x="568.51" y="605" class="xl">1.5</text>
<line x1="595.98" y1="595.4" x2="595.98" y2="597.8" class="tk"/>
<text x="595.98" y="605" class="xl">2.0</text>
<line x1="623.45" y1="595.4" x2="623.45" y2="597.8" class="tk"/>
<text x="623.45" y="605" class="xl">2.5</text>
<line x1="650.92" y1="595.4" x2="650.92" y2="597.8" class="tk"/>
<text x="650.92" y="605" class="xl">3.0</text>
<line x1="678.39" y1="595.4" x2="678.39" y2="597.8" class="tk"/>
<text x="678.39" y="605" class="xl">3.5</text>
<text x="541" y="615.5" class="atc" textLength="79.9" lengthAdjust="spacingAndGlyphs">Lumipulse t-tau181/Aβ42</text>
<text transform="translate(464.4,532) rotate(-90)" class="at" text-anchor="middle">Centiloid</text>
<circle cx="95.1" cy="520.4" r="3.5" class="o"/>
<text x="107.7" y="524.1" class="lg">CSF-/PET+</text>
<circle cx="95.1" cy="535.8" r="3.5" class="g"/>
<text x="107.7" y="539.1" class="lg">CSF+/PET-</text>
<circle cx="95.1" cy="551.1" r="3.5" class="b"/>
<text x="107.7" y="554.3" class="lg">Concordant</text>
</svg>
</body></html>
